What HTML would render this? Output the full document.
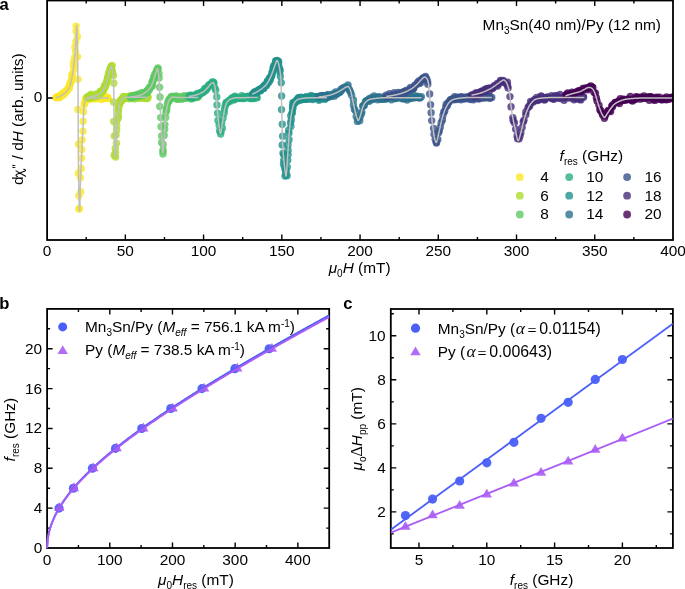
<!DOCTYPE html><html><head><meta charset="utf-8"><style>svg{will-change:transform}html,body{margin:0;padding:0;background:#fff;width:685px;height:589px;overflow:hidden}</style></head><body><svg width="685" height="589" viewBox="0 0 685 589" style="display:block">
<rect x="0" y="0" width="685" height="589" fill="#fff"/>
<defs><clipPath id="ca"><rect x="47.1" y="0.5" width="625.9" height="239.5"/></clipPath></defs>
<g clip-path="url(#ca)">
<g fill="#fde725" fill-opacity="0.8">
<circle cx="56.13" cy="97.60" r="3.7"/><circle cx="56.34" cy="97.76" r="3.7"/><circle cx="56.96" cy="97.28" r="3.7"/><circle cx="56.75" cy="96.74" r="3.7"/><circle cx="57.50" cy="96.91" r="3.7"/><circle cx="58.48" cy="96.38" r="3.7"/><circle cx="58.05" cy="96.94" r="3.7"/><circle cx="59.55" cy="97.64" r="3.7"/><circle cx="59.09" cy="96.14" r="3.7"/><circle cx="60.41" cy="95.82" r="3.7"/><circle cx="60.30" cy="96.35" r="3.7"/><circle cx="61.32" cy="95.99" r="3.7"/><circle cx="61.55" cy="95.54" r="3.7"/><circle cx="61.41" cy="94.54" r="3.7"/><circle cx="62.84" cy="94.88" r="3.7"/><circle cx="63.35" cy="95.09" r="3.7"/><circle cx="63.28" cy="93.36" r="3.7"/><circle cx="63.65" cy="93.68" r="3.7"/><circle cx="64.14" cy="92.35" r="3.7"/><circle cx="64.31" cy="92.43" r="3.7"/><circle cx="65.48" cy="91.67" r="3.7"/><circle cx="65.36" cy="92.39" r="3.7"/><circle cx="65.98" cy="91.23" r="3.7"/><circle cx="66.17" cy="91.83" r="3.7"/><circle cx="66.68" cy="91.23" r="3.7"/><circle cx="66.90" cy="90.42" r="3.7"/><circle cx="68.24" cy="88.17" r="3.7"/><circle cx="68.20" cy="88.88" r="3.7"/><circle cx="69.04" cy="88.49" r="3.7"/><circle cx="69.15" cy="87.80" r="3.7"/><circle cx="69.36" cy="85.62" r="3.7"/><circle cx="69.93" cy="85.08" r="3.7"/><circle cx="70.30" cy="83.23" r="3.7"/><circle cx="70.95" cy="81.65" r="3.7"/><circle cx="71.27" cy="81.07" r="3.7"/><circle cx="71.74" cy="77.71" r="3.7"/><circle cx="71.81" cy="75.81" r="3.7"/><circle cx="72.46" cy="73.51" r="3.7"/><circle cx="73.77" cy="69.12" r="3.7"/><circle cx="73.41" cy="65.74" r="3.7"/><circle cx="73.72" cy="61.91" r="3.7"/><circle cx="74.65" cy="57.53" r="3.7"/><circle cx="75.47" cy="51.62" r="3.7"/><circle cx="74.92" cy="46.94" r="3.7"/><circle cx="75.80" cy="41.78" r="3.7"/><circle cx="76.09" cy="31.14" r="3.7"/><circle cx="76.13" cy="26.11" r="3.7"/><circle cx="77.43" cy="36.78" r="3.7"/><circle cx="77.54" cy="56.87" r="3.7"/><circle cx="77.95" cy="79.31" r="3.7"/><circle cx="77.89" cy="109.46" r="3.7"/><circle cx="78.43" cy="144.25" r="3.7"/><circle cx="78.38" cy="173.14" r="3.7"/><circle cx="78.88" cy="195.69" r="3.7"/><circle cx="78.96" cy="208.68" r="3.7"/><circle cx="79.37" cy="208.71" r="3.7"/><circle cx="80.66" cy="191.78" r="3.7"/><circle cx="80.43" cy="177.64" r="3.7"/><circle cx="81.15" cy="168.38" r="3.7"/><circle cx="81.47" cy="158.03" r="3.7"/><circle cx="81.76" cy="149.44" r="3.7"/><circle cx="82.18" cy="139.84" r="3.7"/><circle cx="83.01" cy="131.30" r="3.7"/><circle cx="83.12" cy="121.25" r="3.7"/><circle cx="83.61" cy="111.64" r="3.7"/><circle cx="84.11" cy="104.63" r="3.7"/><circle cx="84.96" cy="102.90" r="3.7"/><circle cx="85.24" cy="101.51" r="3.7"/><circle cx="85.58" cy="98.93" r="3.7"/><circle cx="85.70" cy="98.89" r="3.7"/><circle cx="85.87" cy="99.54" r="3.7"/><circle cx="87.13" cy="97.39" r="3.7"/><circle cx="87.59" cy="98.20" r="3.7"/><circle cx="87.65" cy="98.24" r="3.7"/><circle cx="88.34" cy="99.02" r="3.7"/><circle cx="88.87" cy="98.50" r="3.7"/><circle cx="89.34" cy="97.70" r="3.7"/><circle cx="89.82" cy="97.64" r="3.7"/><circle cx="89.79" cy="97.72" r="3.7"/><circle cx="90.93" cy="98.97" r="3.7"/><circle cx="90.41" cy="97.60" r="3.7"/><circle cx="91.60" cy="97.69" r="3.7"/><circle cx="91.92" cy="98.15" r="3.7"/><circle cx="92.51" cy="97.82" r="3.7"/><circle cx="93.31" cy="97.76" r="3.7"/><circle cx="93.62" cy="97.12" r="3.7"/><circle cx="93.15" cy="97.89" r="3.7"/><circle cx="93.41" cy="97.59" r="3.7"/><circle cx="94.74" cy="98.72" r="3.7"/><circle cx="94.54" cy="98.36" r="3.7"/><circle cx="95.34" cy="97.88" r="3.7"/><circle cx="96.09" cy="98.37" r="3.7"/><circle cx="95.67" cy="97.66" r="3.7"/><circle cx="95.96" cy="98.64" r="3.7"/><circle cx="97.24" cy="97.90" r="3.7"/><circle cx="97.61" cy="98.31" r="3.7"/><circle cx="97.96" cy="97.00" r="3.7"/><circle cx="98.51" cy="98.14" r="3.7"/><circle cx="98.65" cy="96.72" r="3.7"/><circle cx="98.87" cy="96.48" r="3.7"/><circle cx="99.79" cy="97.69" r="3.7"/><circle cx="99.96" cy="97.27" r="3.7"/><circle cx="100.17" cy="98.01" r="3.7"/><circle cx="101.38" cy="99.47" r="3.7"/><circle cx="101.63" cy="97.32" r="3.7"/><circle cx="102.24" cy="97.46" r="3.7"/><circle cx="102.20" cy="98.04" r="3.7"/><circle cx="102.77" cy="98.25" r="3.7"/><circle cx="103.10" cy="97.78" r="3.7"/><circle cx="103.59" cy="97.76" r="3.7"/><circle cx="104.42" cy="98.39" r="3.7"/><circle cx="104.53" cy="98.26" r="3.7"/><circle cx="105.37" cy="97.18" r="3.7"/><circle cx="105.82" cy="97.84" r="3.7"/><circle cx="106.86" cy="97.92" r="3.7"/><circle cx="106.11" cy="97.16" r="3.7"/><circle cx="107.36" cy="98.08" r="3.7"/><circle cx="107.47" cy="97.30" r="3.7"/><circle cx="107.94" cy="98.58" r="3.7"/><circle cx="107.89" cy="98.03" r="3.7"/>
</g>
<g fill="#addc30" fill-opacity="0.8">
<circle cx="87.01" cy="97.03" r="3.7"/><circle cx="88.64" cy="97.97" r="3.7"/><circle cx="88.04" cy="97.28" r="3.7"/><circle cx="89.01" cy="97.37" r="3.7"/><circle cx="88.57" cy="97.03" r="3.7"/><circle cx="89.21" cy="98.14" r="3.7"/><circle cx="88.92" cy="97.14" r="3.7"/><circle cx="89.72" cy="95.34" r="3.7"/><circle cx="90.54" cy="96.48" r="3.7"/><circle cx="90.11" cy="95.40" r="3.7"/><circle cx="91.28" cy="94.30" r="3.7"/><circle cx="91.37" cy="96.40" r="3.7"/><circle cx="91.23" cy="97.82" r="3.7"/><circle cx="91.77" cy="96.71" r="3.7"/><circle cx="92.14" cy="95.65" r="3.7"/><circle cx="92.63" cy="95.75" r="3.7"/><circle cx="92.81" cy="97.32" r="3.7"/><circle cx="93.06" cy="96.45" r="3.7"/><circle cx="93.59" cy="96.27" r="3.7"/><circle cx="93.69" cy="96.10" r="3.7"/><circle cx="93.95" cy="96.08" r="3.7"/><circle cx="94.73" cy="96.59" r="3.7"/><circle cx="95.41" cy="96.28" r="3.7"/><circle cx="94.91" cy="95.90" r="3.7"/><circle cx="95.80" cy="94.78" r="3.7"/><circle cx="95.92" cy="95.90" r="3.7"/><circle cx="96.16" cy="94.81" r="3.7"/><circle cx="97.15" cy="96.09" r="3.7"/><circle cx="97.02" cy="94.06" r="3.7"/><circle cx="98.07" cy="94.81" r="3.7"/><circle cx="97.63" cy="94.75" r="3.7"/><circle cx="98.39" cy="93.52" r="3.7"/><circle cx="98.52" cy="95.77" r="3.7"/><circle cx="98.69" cy="95.37" r="3.7"/><circle cx="99.51" cy="93.63" r="3.7"/><circle cx="99.60" cy="94.40" r="3.7"/><circle cx="100.21" cy="93.84" r="3.7"/><circle cx="100.33" cy="91.17" r="3.7"/><circle cx="100.32" cy="93.16" r="3.7"/><circle cx="101.01" cy="92.59" r="3.7"/><circle cx="101.42" cy="92.36" r="3.7"/><circle cx="102.09" cy="91.06" r="3.7"/><circle cx="101.78" cy="91.31" r="3.7"/><circle cx="102.44" cy="90.96" r="3.7"/><circle cx="102.20" cy="91.61" r="3.7"/><circle cx="103.38" cy="90.46" r="3.7"/><circle cx="103.12" cy="89.70" r="3.7"/><circle cx="103.22" cy="90.38" r="3.7"/><circle cx="104.18" cy="88.08" r="3.7"/><circle cx="104.94" cy="87.51" r="3.7"/><circle cx="104.37" cy="85.60" r="3.7"/><circle cx="104.87" cy="87.48" r="3.7"/><circle cx="105.34" cy="86.12" r="3.7"/><circle cx="105.55" cy="85.16" r="3.7"/><circle cx="106.43" cy="84.00" r="3.7"/><circle cx="106.37" cy="82.55" r="3.7"/><circle cx="106.75" cy="81.52" r="3.7"/><circle cx="107.55" cy="79.91" r="3.7"/><circle cx="107.43" cy="78.63" r="3.7"/><circle cx="108.20" cy="77.49" r="3.7"/><circle cx="108.06" cy="77.29" r="3.7"/><circle cx="108.32" cy="75.17" r="3.7"/><circle cx="108.45" cy="73.18" r="3.7"/><circle cx="110.10" cy="71.20" r="3.7"/><circle cx="109.68" cy="69.69" r="3.7"/><circle cx="110.23" cy="70.23" r="3.7"/><circle cx="110.48" cy="68.38" r="3.7"/><circle cx="110.90" cy="67.11" r="3.7"/><circle cx="111.21" cy="66.14" r="3.7"/><circle cx="112.21" cy="65.57" r="3.7"/><circle cx="111.53" cy="67.75" r="3.7"/><circle cx="111.70" cy="70.52" r="3.7"/><circle cx="112.24" cy="71.28" r="3.7"/><circle cx="112.47" cy="72.95" r="3.7"/><circle cx="113.55" cy="75.40" r="3.7"/><circle cx="113.91" cy="83.30" r="3.7"/><circle cx="113.54" cy="102.04" r="3.7"/><circle cx="113.66" cy="121.38" r="3.7"/><circle cx="114.32" cy="136.00" r="3.7"/><circle cx="115.26" cy="148.57" r="3.7"/><circle cx="114.12" cy="155.19" r="3.7"/><circle cx="115.64" cy="157.09" r="3.7"/><circle cx="115.42" cy="152.60" r="3.7"/><circle cx="116.50" cy="143.19" r="3.7"/><circle cx="116.09" cy="134.99" r="3.7"/><circle cx="116.71" cy="129.98" r="3.7"/><circle cx="116.63" cy="125.31" r="3.7"/><circle cx="117.16" cy="120.36" r="3.7"/><circle cx="118.34" cy="117.80" r="3.7"/><circle cx="118.49" cy="115.78" r="3.7"/><circle cx="118.41" cy="111.23" r="3.7"/><circle cx="118.59" cy="108.80" r="3.7"/><circle cx="118.59" cy="105.84" r="3.7"/><circle cx="119.46" cy="104.93" r="3.7"/><circle cx="119.94" cy="102.08" r="3.7"/><circle cx="120.27" cy="101.12" r="3.7"/><circle cx="120.61" cy="102.29" r="3.7"/><circle cx="120.60" cy="99.86" r="3.7"/><circle cx="121.32" cy="100.82" r="3.7"/><circle cx="121.68" cy="100.61" r="3.7"/><circle cx="122.50" cy="99.09" r="3.7"/><circle cx="123.05" cy="98.90" r="3.7"/><circle cx="122.70" cy="99.66" r="3.7"/><circle cx="122.83" cy="97.66" r="3.7"/><circle cx="123.42" cy="97.15" r="3.7"/><circle cx="123.58" cy="96.43" r="3.7"/><circle cx="123.89" cy="97.51" r="3.7"/><circle cx="124.48" cy="98.62" r="3.7"/><circle cx="124.48" cy="98.18" r="3.7"/><circle cx="125.41" cy="96.62" r="3.7"/><circle cx="125.51" cy="96.67" r="3.7"/><circle cx="125.98" cy="96.92" r="3.7"/><circle cx="126.18" cy="97.54" r="3.7"/><circle cx="126.34" cy="97.12" r="3.7"/><circle cx="126.61" cy="97.44" r="3.7"/><circle cx="127.21" cy="97.49" r="3.7"/><circle cx="127.45" cy="97.00" r="3.7"/><circle cx="128.08" cy="97.19" r="3.7"/><circle cx="128.34" cy="97.38" r="3.7"/><circle cx="128.22" cy="97.14" r="3.7"/><circle cx="129.07" cy="97.61" r="3.7"/><circle cx="128.93" cy="98.70" r="3.7"/><circle cx="129.53" cy="97.67" r="3.7"/><circle cx="129.99" cy="97.24" r="3.7"/><circle cx="129.72" cy="95.85" r="3.7"/><circle cx="130.83" cy="97.51" r="3.7"/><circle cx="131.20" cy="95.64" r="3.7"/><circle cx="131.44" cy="96.07" r="3.7"/><circle cx="131.70" cy="97.88" r="3.7"/><circle cx="132.07" cy="97.77" r="3.7"/><circle cx="132.20" cy="97.08" r="3.7"/><circle cx="132.80" cy="95.83" r="3.7"/><circle cx="133.05" cy="96.91" r="3.7"/><circle cx="133.63" cy="96.66" r="3.7"/><circle cx="133.52" cy="97.71" r="3.7"/><circle cx="134.38" cy="99.01" r="3.7"/><circle cx="134.70" cy="97.38" r="3.7"/><circle cx="134.95" cy="96.58" r="3.7"/><circle cx="135.19" cy="96.27" r="3.7"/><circle cx="135.89" cy="97.17" r="3.7"/><circle cx="135.46" cy="97.07" r="3.7"/><circle cx="136.56" cy="96.29" r="3.7"/><circle cx="136.83" cy="97.31" r="3.7"/><circle cx="137.20" cy="96.30" r="3.7"/><circle cx="137.58" cy="98.11" r="3.7"/><circle cx="137.57" cy="98.08" r="3.7"/><circle cx="138.06" cy="98.10" r="3.7"/><circle cx="138.72" cy="96.85" r="3.7"/><circle cx="139.00" cy="97.65" r="3.7"/><circle cx="139.27" cy="97.13" r="3.7"/><circle cx="139.02" cy="96.93" r="3.7"/><circle cx="140.08" cy="96.98" r="3.7"/><circle cx="140.66" cy="96.22" r="3.7"/><circle cx="140.95" cy="96.11" r="3.7"/><circle cx="141.03" cy="97.90" r="3.7"/><circle cx="140.75" cy="97.12" r="3.7"/><circle cx="141.98" cy="97.45" r="3.7"/><circle cx="141.94" cy="98.09" r="3.7"/><circle cx="141.46" cy="95.91" r="3.7"/><circle cx="142.83" cy="96.68" r="3.7"/><circle cx="142.52" cy="97.45" r="3.7"/><circle cx="142.94" cy="97.64" r="3.7"/><circle cx="143.52" cy="97.03" r="3.7"/><circle cx="144.54" cy="98.16" r="3.7"/><circle cx="144.32" cy="97.52" r="3.7"/><circle cx="144.89" cy="96.39" r="3.7"/><circle cx="145.76" cy="96.63" r="3.7"/><circle cx="146.05" cy="98.03" r="3.7"/><circle cx="145.81" cy="97.77" r="3.7"/><circle cx="146.11" cy="95.89" r="3.7"/><circle cx="146.10" cy="98.50" r="3.7"/><circle cx="146.65" cy="97.92" r="3.7"/><circle cx="147.39" cy="98.53" r="3.7"/><circle cx="147.73" cy="97.16" r="3.7"/><circle cx="147.98" cy="97.25" r="3.7"/>
</g>
<g fill="#5ec962" fill-opacity="0.8">
<circle cx="130.19" cy="97.70" r="3.7"/><circle cx="131.30" cy="96.28" r="3.7"/><circle cx="131.79" cy="96.84" r="3.7"/><circle cx="132.01" cy="97.44" r="3.7"/><circle cx="132.25" cy="97.29" r="3.7"/><circle cx="132.21" cy="97.64" r="3.7"/><circle cx="133.40" cy="97.05" r="3.7"/><circle cx="133.33" cy="96.44" r="3.7"/><circle cx="133.78" cy="96.91" r="3.7"/><circle cx="134.15" cy="95.76" r="3.7"/><circle cx="134.73" cy="95.18" r="3.7"/><circle cx="135.00" cy="96.88" r="3.7"/><circle cx="135.57" cy="96.30" r="3.7"/><circle cx="135.67" cy="96.51" r="3.7"/><circle cx="136.37" cy="94.83" r="3.7"/><circle cx="137.75" cy="95.82" r="3.7"/><circle cx="137.38" cy="95.54" r="3.7"/><circle cx="137.77" cy="95.23" r="3.7"/><circle cx="138.49" cy="94.01" r="3.7"/><circle cx="139.00" cy="95.42" r="3.7"/><circle cx="138.81" cy="96.27" r="3.7"/><circle cx="139.58" cy="95.70" r="3.7"/><circle cx="140.42" cy="94.76" r="3.7"/><circle cx="140.64" cy="95.06" r="3.7"/><circle cx="141.04" cy="95.50" r="3.7"/><circle cx="141.99" cy="92.50" r="3.7"/><circle cx="141.66" cy="94.41" r="3.7"/><circle cx="142.38" cy="94.74" r="3.7"/><circle cx="142.62" cy="94.64" r="3.7"/><circle cx="143.77" cy="95.24" r="3.7"/><circle cx="143.02" cy="94.54" r="3.7"/><circle cx="143.92" cy="93.61" r="3.7"/><circle cx="144.41" cy="93.30" r="3.7"/><circle cx="145.28" cy="93.38" r="3.7"/><circle cx="145.71" cy="91.98" r="3.7"/><circle cx="146.44" cy="92.02" r="3.7"/><circle cx="145.85" cy="92.41" r="3.7"/><circle cx="147.11" cy="92.87" r="3.7"/><circle cx="147.20" cy="90.78" r="3.7"/><circle cx="147.52" cy="90.47" r="3.7"/><circle cx="148.39" cy="90.25" r="3.7"/><circle cx="148.33" cy="90.71" r="3.7"/><circle cx="148.37" cy="89.13" r="3.7"/><circle cx="149.42" cy="89.81" r="3.7"/><circle cx="149.48" cy="87.29" r="3.7"/><circle cx="150.22" cy="87.28" r="3.7"/><circle cx="151.03" cy="86.55" r="3.7"/><circle cx="151.46" cy="86.46" r="3.7"/><circle cx="152.35" cy="85.66" r="3.7"/><circle cx="152.18" cy="82.51" r="3.7"/><circle cx="152.16" cy="81.82" r="3.7"/><circle cx="152.88" cy="81.61" r="3.7"/><circle cx="153.28" cy="79.49" r="3.7"/><circle cx="153.62" cy="77.28" r="3.7"/><circle cx="154.65" cy="77.76" r="3.7"/><circle cx="154.72" cy="75.83" r="3.7"/><circle cx="154.70" cy="74.53" r="3.7"/><circle cx="156.09" cy="72.42" r="3.7"/><circle cx="156.26" cy="72.26" r="3.7"/><circle cx="156.87" cy="70.00" r="3.7"/><circle cx="157.23" cy="70.12" r="3.7"/><circle cx="157.87" cy="68.01" r="3.7"/><circle cx="158.11" cy="68.87" r="3.7"/><circle cx="158.98" cy="73.48" r="3.7"/><circle cx="159.14" cy="78.00" r="3.7"/><circle cx="159.57" cy="87.17" r="3.7"/><circle cx="160.00" cy="96.90" r="3.7"/><circle cx="159.78" cy="106.54" r="3.7"/><circle cx="160.67" cy="117.62" r="3.7"/><circle cx="161.07" cy="126.65" r="3.7"/><circle cx="161.67" cy="136.06" r="3.7"/><circle cx="161.57" cy="142.44" r="3.7"/><circle cx="163.05" cy="149.71" r="3.7"/><circle cx="162.97" cy="153.94" r="3.7"/><circle cx="162.95" cy="151.52" r="3.7"/><circle cx="163.22" cy="144.53" r="3.7"/><circle cx="164.16" cy="135.45" r="3.7"/><circle cx="164.67" cy="129.53" r="3.7"/><circle cx="164.90" cy="124.61" r="3.7"/><circle cx="165.63" cy="117.61" r="3.7"/><circle cx="165.82" cy="112.39" r="3.7"/><circle cx="166.68" cy="110.27" r="3.7"/><circle cx="166.69" cy="108.00" r="3.7"/><circle cx="167.37" cy="104.78" r="3.7"/><circle cx="168.18" cy="102.30" r="3.7"/><circle cx="169.19" cy="101.03" r="3.7"/><circle cx="168.38" cy="101.66" r="3.7"/><circle cx="169.02" cy="99.67" r="3.7"/><circle cx="169.34" cy="99.37" r="3.7"/><circle cx="170.36" cy="98.94" r="3.7"/><circle cx="170.14" cy="98.66" r="3.7"/><circle cx="170.82" cy="97.41" r="3.7"/><circle cx="171.43" cy="97.75" r="3.7"/><circle cx="171.54" cy="96.49" r="3.7"/><circle cx="172.00" cy="96.91" r="3.7"/><circle cx="172.62" cy="96.39" r="3.7"/><circle cx="172.50" cy="98.12" r="3.7"/><circle cx="173.18" cy="97.21" r="3.7"/><circle cx="173.99" cy="96.66" r="3.7"/><circle cx="174.64" cy="96.98" r="3.7"/><circle cx="174.97" cy="97.11" r="3.7"/><circle cx="174.87" cy="97.87" r="3.7"/><circle cx="175.77" cy="96.05" r="3.7"/><circle cx="176.67" cy="96.52" r="3.7"/><circle cx="177.03" cy="97.06" r="3.7"/><circle cx="177.26" cy="99.40" r="3.7"/><circle cx="177.43" cy="98.15" r="3.7"/><circle cx="178.41" cy="97.31" r="3.7"/><circle cx="178.43" cy="97.97" r="3.7"/><circle cx="178.68" cy="99.05" r="3.7"/><circle cx="179.26" cy="97.21" r="3.7"/><circle cx="180.49" cy="97.11" r="3.7"/><circle cx="180.51" cy="98.37" r="3.7"/><circle cx="181.29" cy="97.80" r="3.7"/><circle cx="181.17" cy="97.94" r="3.7"/><circle cx="182.12" cy="96.99" r="3.7"/><circle cx="182.03" cy="98.94" r="3.7"/><circle cx="182.63" cy="98.77" r="3.7"/><circle cx="184.01" cy="97.85" r="3.7"/><circle cx="183.86" cy="97.95" r="3.7"/><circle cx="183.86" cy="95.78" r="3.7"/><circle cx="184.46" cy="97.91" r="3.7"/><circle cx="185.05" cy="97.24" r="3.7"/><circle cx="185.81" cy="97.75" r="3.7"/><circle cx="185.67" cy="97.95" r="3.7"/><circle cx="185.68" cy="97.13" r="3.7"/><circle cx="186.64" cy="96.05" r="3.7"/><circle cx="187.19" cy="97.69" r="3.7"/><circle cx="187.68" cy="96.81" r="3.7"/><circle cx="188.55" cy="97.14" r="3.7"/><circle cx="188.65" cy="96.92" r="3.7"/><circle cx="189.27" cy="97.13" r="3.7"/><circle cx="189.05" cy="95.55" r="3.7"/><circle cx="190.19" cy="98.37" r="3.7"/><circle cx="191.07" cy="97.60" r="3.7"/><circle cx="191.06" cy="98.29" r="3.7"/><circle cx="191.33" cy="98.98" r="3.7"/><circle cx="191.74" cy="97.42" r="3.7"/><circle cx="192.76" cy="95.96" r="3.7"/><circle cx="192.26" cy="96.68" r="3.7"/><circle cx="193.00" cy="96.43" r="3.7"/><circle cx="193.65" cy="97.00" r="3.7"/><circle cx="194.20" cy="97.46" r="3.7"/><circle cx="194.23" cy="95.80" r="3.7"/><circle cx="194.94" cy="97.67" r="3.7"/><circle cx="195.19" cy="96.19" r="3.7"/><circle cx="195.78" cy="97.64" r="3.7"/><circle cx="196.14" cy="97.31" r="3.7"/><circle cx="196.24" cy="97.15" r="3.7"/><circle cx="197.08" cy="97.34" r="3.7"/><circle cx="197.84" cy="96.97" r="3.7"/><circle cx="197.65" cy="96.91" r="3.7"/><circle cx="198.35" cy="96.05" r="3.7"/>
</g>
<g fill="#28ae80" fill-opacity="0.8">
<circle cx="188.58" cy="97.00" r="3.7"/><circle cx="189.96" cy="95.38" r="3.7"/><circle cx="190.16" cy="96.43" r="3.7"/><circle cx="191.16" cy="95.21" r="3.7"/><circle cx="191.41" cy="97.06" r="3.7"/><circle cx="192.53" cy="97.98" r="3.7"/><circle cx="193.24" cy="97.57" r="3.7"/><circle cx="193.65" cy="95.38" r="3.7"/><circle cx="195.21" cy="96.06" r="3.7"/><circle cx="195.33" cy="95.30" r="3.7"/><circle cx="196.52" cy="95.08" r="3.7"/><circle cx="196.94" cy="96.17" r="3.7"/><circle cx="197.07" cy="93.37" r="3.7"/><circle cx="197.87" cy="95.28" r="3.7"/><circle cx="198.85" cy="94.05" r="3.7"/><circle cx="199.42" cy="95.08" r="3.7"/><circle cx="200.12" cy="93.68" r="3.7"/><circle cx="200.70" cy="92.57" r="3.7"/><circle cx="200.87" cy="93.06" r="3.7"/><circle cx="202.12" cy="93.07" r="3.7"/><circle cx="202.12" cy="92.02" r="3.7"/><circle cx="203.73" cy="91.97" r="3.7"/><circle cx="204.05" cy="90.56" r="3.7"/><circle cx="204.75" cy="88.49" r="3.7"/><circle cx="205.62" cy="90.51" r="3.7"/><circle cx="206.50" cy="89.57" r="3.7"/><circle cx="206.60" cy="88.28" r="3.7"/><circle cx="207.19" cy="87.42" r="3.7"/><circle cx="208.13" cy="87.53" r="3.7"/><circle cx="208.48" cy="85.40" r="3.7"/><circle cx="209.56" cy="84.35" r="3.7"/><circle cx="211.16" cy="84.04" r="3.7"/><circle cx="210.93" cy="84.67" r="3.7"/><circle cx="212.23" cy="81.83" r="3.7"/><circle cx="212.22" cy="83.75" r="3.7"/><circle cx="213.50" cy="82.17" r="3.7"/><circle cx="213.99" cy="83.08" r="3.7"/><circle cx="214.78" cy="87.61" r="3.7"/><circle cx="215.70" cy="90.29" r="3.7"/><circle cx="216.81" cy="97.03" r="3.7"/><circle cx="216.95" cy="104.96" r="3.7"/><circle cx="217.62" cy="113.29" r="3.7"/><circle cx="217.93" cy="120.47" r="3.7"/><circle cx="219.17" cy="125.42" r="3.7"/><circle cx="219.58" cy="130.90" r="3.7"/><circle cx="220.66" cy="134.03" r="3.7"/><circle cx="221.05" cy="131.18" r="3.7"/><circle cx="222.37" cy="127.97" r="3.7"/><circle cx="221.77" cy="122.77" r="3.7"/><circle cx="223.06" cy="118.00" r="3.7"/><circle cx="224.17" cy="113.33" r="3.7"/><circle cx="224.43" cy="109.65" r="3.7"/><circle cx="224.98" cy="106.80" r="3.7"/><circle cx="225.86" cy="103.99" r="3.7"/><circle cx="226.17" cy="102.43" r="3.7"/><circle cx="227.40" cy="102.75" r="3.7"/><circle cx="228.91" cy="101.09" r="3.7"/><circle cx="229.16" cy="101.00" r="3.7"/><circle cx="229.07" cy="100.76" r="3.7"/><circle cx="229.85" cy="99.87" r="3.7"/><circle cx="230.71" cy="101.10" r="3.7"/><circle cx="231.91" cy="98.05" r="3.7"/><circle cx="231.97" cy="99.28" r="3.7"/><circle cx="232.71" cy="98.05" r="3.7"/><circle cx="233.96" cy="99.82" r="3.7"/><circle cx="234.66" cy="99.53" r="3.7"/><circle cx="234.92" cy="96.11" r="3.7"/><circle cx="235.36" cy="96.90" r="3.7"/><circle cx="235.91" cy="98.32" r="3.7"/><circle cx="236.91" cy="98.41" r="3.7"/><circle cx="237.07" cy="98.35" r="3.7"/><circle cx="238.82" cy="97.62" r="3.7"/><circle cx="239.03" cy="98.09" r="3.7"/><circle cx="240.12" cy="98.26" r="3.7"/><circle cx="241.31" cy="97.59" r="3.7"/><circle cx="241.77" cy="98.58" r="3.7"/><circle cx="241.65" cy="95.62" r="3.7"/><circle cx="243.06" cy="98.22" r="3.7"/><circle cx="243.86" cy="96.71" r="3.7"/><circle cx="243.89" cy="98.50" r="3.7"/><circle cx="244.52" cy="97.43" r="3.7"/><circle cx="245.52" cy="96.83" r="3.7"/><circle cx="245.69" cy="97.96" r="3.7"/><circle cx="247.47" cy="96.80" r="3.7"/><circle cx="246.81" cy="96.80" r="3.7"/><circle cx="247.97" cy="96.21" r="3.7"/><circle cx="248.96" cy="97.59" r="3.7"/><circle cx="249.68" cy="98.06" r="3.7"/><circle cx="250.51" cy="98.53" r="3.7"/><circle cx="251.25" cy="97.48" r="3.7"/><circle cx="251.78" cy="98.55" r="3.7"/><circle cx="252.95" cy="97.62" r="3.7"/><circle cx="252.51" cy="97.52" r="3.7"/><circle cx="253.95" cy="98.12" r="3.7"/><circle cx="254.40" cy="98.55" r="3.7"/><circle cx="255.40" cy="97.29" r="3.7"/><circle cx="256.13" cy="97.38" r="3.7"/><circle cx="256.44" cy="97.46" r="3.7"/><circle cx="257.23" cy="97.67" r="3.7"/>
</g>
<g fill="#21918c" fill-opacity="0.8">
<circle cx="252.76" cy="94.91" r="3.7"/><circle cx="252.28" cy="94.35" r="3.7"/><circle cx="253.39" cy="93.25" r="3.7"/><circle cx="253.54" cy="95.52" r="3.7"/><circle cx="254.32" cy="95.58" r="3.7"/><circle cx="254.45" cy="92.00" r="3.7"/><circle cx="254.44" cy="93.40" r="3.7"/><circle cx="254.79" cy="95.19" r="3.7"/><circle cx="255.27" cy="93.44" r="3.7"/><circle cx="255.68" cy="92.74" r="3.7"/><circle cx="255.81" cy="92.14" r="3.7"/><circle cx="256.37" cy="91.63" r="3.7"/><circle cx="257.32" cy="91.72" r="3.7"/><circle cx="256.54" cy="91.20" r="3.7"/><circle cx="257.61" cy="92.14" r="3.7"/><circle cx="257.58" cy="90.89" r="3.7"/><circle cx="258.35" cy="90.63" r="3.7"/><circle cx="258.95" cy="89.71" r="3.7"/><circle cx="259.02" cy="90.51" r="3.7"/><circle cx="259.69" cy="89.51" r="3.7"/><circle cx="259.24" cy="89.91" r="3.7"/><circle cx="260.57" cy="90.76" r="3.7"/><circle cx="260.35" cy="89.89" r="3.7"/><circle cx="261.16" cy="89.75" r="3.7"/><circle cx="261.38" cy="89.34" r="3.7"/><circle cx="260.79" cy="88.80" r="3.7"/><circle cx="261.82" cy="88.34" r="3.7"/><circle cx="262.54" cy="87.88" r="3.7"/><circle cx="263.38" cy="88.53" r="3.7"/><circle cx="263.32" cy="86.56" r="3.7"/><circle cx="263.69" cy="88.42" r="3.7"/><circle cx="263.49" cy="86.91" r="3.7"/><circle cx="264.86" cy="85.86" r="3.7"/><circle cx="265.37" cy="85.73" r="3.7"/><circle cx="265.13" cy="85.19" r="3.7"/><circle cx="265.42" cy="85.54" r="3.7"/><circle cx="265.31" cy="84.34" r="3.7"/><circle cx="266.57" cy="85.57" r="3.7"/><circle cx="267.59" cy="83.37" r="3.7"/><circle cx="267.27" cy="81.53" r="3.7"/><circle cx="267.84" cy="82.36" r="3.7"/><circle cx="267.97" cy="80.60" r="3.7"/><circle cx="267.81" cy="81.72" r="3.7"/><circle cx="269.01" cy="82.02" r="3.7"/><circle cx="268.49" cy="80.93" r="3.7"/><circle cx="269.23" cy="78.41" r="3.7"/><circle cx="269.78" cy="78.17" r="3.7"/><circle cx="270.37" cy="79.68" r="3.7"/><circle cx="270.58" cy="77.58" r="3.7"/><circle cx="270.95" cy="76.47" r="3.7"/><circle cx="270.93" cy="76.54" r="3.7"/><circle cx="271.13" cy="76.89" r="3.7"/><circle cx="271.98" cy="74.92" r="3.7"/><circle cx="272.09" cy="72.91" r="3.7"/><circle cx="272.26" cy="72.10" r="3.7"/><circle cx="272.65" cy="71.25" r="3.7"/><circle cx="273.31" cy="68.99" r="3.7"/><circle cx="273.21" cy="67.39" r="3.7"/><circle cx="273.76" cy="67.19" r="3.7"/><circle cx="274.04" cy="65.14" r="3.7"/><circle cx="275.06" cy="64.87" r="3.7"/><circle cx="275.52" cy="64.03" r="3.7"/><circle cx="276.46" cy="64.96" r="3.7"/><circle cx="275.61" cy="61.03" r="3.7"/><circle cx="276.28" cy="60.85" r="3.7"/><circle cx="277.21" cy="60.38" r="3.7"/><circle cx="277.20" cy="61.01" r="3.7"/><circle cx="277.54" cy="62.06" r="3.7"/><circle cx="278.63" cy="61.55" r="3.7"/><circle cx="278.30" cy="62.44" r="3.7"/><circle cx="278.39" cy="63.16" r="3.7"/><circle cx="278.71" cy="65.48" r="3.7"/><circle cx="279.67" cy="68.66" r="3.7"/><circle cx="280.04" cy="70.22" r="3.7"/><circle cx="279.83" cy="71.88" r="3.7"/><circle cx="280.34" cy="76.39" r="3.7"/><circle cx="281.25" cy="82.65" r="3.7"/><circle cx="281.61" cy="96.02" r="3.7"/><circle cx="281.52" cy="109.61" r="3.7"/><circle cx="282.30" cy="124.32" r="3.7"/><circle cx="282.63" cy="136.16" r="3.7"/><circle cx="282.17" cy="144.91" r="3.7"/><circle cx="283.06" cy="153.28" r="3.7"/><circle cx="283.69" cy="154.59" r="3.7"/><circle cx="283.72" cy="160.19" r="3.7"/><circle cx="283.55" cy="164.18" r="3.7"/><circle cx="284.58" cy="167.15" r="3.7"/><circle cx="285.32" cy="170.34" r="3.7"/><circle cx="285.98" cy="174.05" r="3.7"/><circle cx="285.04" cy="175.93" r="3.7"/><circle cx="287.11" cy="175.65" r="3.7"/><circle cx="286.17" cy="170.79" r="3.7"/><circle cx="287.28" cy="167.05" r="3.7"/><circle cx="287.75" cy="160.26" r="3.7"/><circle cx="288.03" cy="154.64" r="3.7"/><circle cx="288.12" cy="150.16" r="3.7"/><circle cx="288.03" cy="145.05" r="3.7"/><circle cx="289.03" cy="139.75" r="3.7"/><circle cx="288.94" cy="133.32" r="3.7"/><circle cx="288.68" cy="130.13" r="3.7"/><circle cx="290.93" cy="126.34" r="3.7"/><circle cx="290.57" cy="122.61" r="3.7"/><circle cx="291.33" cy="119.64" r="3.7"/><circle cx="290.76" cy="115.72" r="3.7"/><circle cx="291.97" cy="113.50" r="3.7"/><circle cx="292.39" cy="112.34" r="3.7"/><circle cx="292.76" cy="108.47" r="3.7"/><circle cx="292.58" cy="108.18" r="3.7"/><circle cx="292.55" cy="106.01" r="3.7"/><circle cx="293.29" cy="104.88" r="3.7"/><circle cx="292.96" cy="102.61" r="3.7"/><circle cx="293.52" cy="102.59" r="3.7"/><circle cx="294.52" cy="102.72" r="3.7"/><circle cx="294.52" cy="102.95" r="3.7"/><circle cx="295.19" cy="102.52" r="3.7"/><circle cx="295.59" cy="101.10" r="3.7"/><circle cx="296.69" cy="100.60" r="3.7"/><circle cx="296.84" cy="99.69" r="3.7"/><circle cx="296.75" cy="100.51" r="3.7"/><circle cx="297.57" cy="99.69" r="3.7"/><circle cx="297.26" cy="100.25" r="3.7"/><circle cx="297.79" cy="101.09" r="3.7"/><circle cx="298.61" cy="99.31" r="3.7"/><circle cx="298.24" cy="97.84" r="3.7"/><circle cx="298.95" cy="98.28" r="3.7"/><circle cx="298.97" cy="97.63" r="3.7"/><circle cx="299.85" cy="97.77" r="3.7"/><circle cx="300.76" cy="99.93" r="3.7"/><circle cx="300.31" cy="98.89" r="3.7"/><circle cx="301.03" cy="97.24" r="3.7"/><circle cx="301.02" cy="99.13" r="3.7"/><circle cx="301.31" cy="99.62" r="3.7"/><circle cx="301.66" cy="98.10" r="3.7"/><circle cx="302.98" cy="97.76" r="3.7"/><circle cx="303.68" cy="98.02" r="3.7"/><circle cx="303.40" cy="98.53" r="3.7"/><circle cx="303.36" cy="98.81" r="3.7"/><circle cx="304.24" cy="99.26" r="3.7"/><circle cx="304.25" cy="99.25" r="3.7"/><circle cx="305.03" cy="99.19" r="3.7"/><circle cx="305.23" cy="99.31" r="3.7"/><circle cx="305.61" cy="98.65" r="3.7"/><circle cx="306.10" cy="96.65" r="3.7"/><circle cx="306.07" cy="97.88" r="3.7"/><circle cx="306.51" cy="98.25" r="3.7"/><circle cx="306.43" cy="97.59" r="3.7"/><circle cx="307.26" cy="98.72" r="3.7"/><circle cx="307.29" cy="97.55" r="3.7"/><circle cx="308.12" cy="97.02" r="3.7"/><circle cx="308.22" cy="99.12" r="3.7"/><circle cx="308.97" cy="98.40" r="3.7"/><circle cx="309.47" cy="97.98" r="3.7"/><circle cx="309.19" cy="98.59" r="3.7"/><circle cx="309.79" cy="98.70" r="3.7"/><circle cx="310.12" cy="98.03" r="3.7"/><circle cx="311.09" cy="95.50" r="3.7"/><circle cx="311.81" cy="97.10" r="3.7"/><circle cx="311.89" cy="97.29" r="3.7"/><circle cx="311.85" cy="96.81" r="3.7"/><circle cx="312.86" cy="97.88" r="3.7"/><circle cx="312.20" cy="98.77" r="3.7"/><circle cx="313.64" cy="97.26" r="3.7"/><circle cx="313.26" cy="96.68" r="3.7"/><circle cx="312.90" cy="99.53" r="3.7"/><circle cx="315.18" cy="97.29" r="3.7"/><circle cx="315.18" cy="96.59" r="3.7"/><circle cx="314.65" cy="97.91" r="3.7"/><circle cx="315.45" cy="98.08" r="3.7"/><circle cx="315.70" cy="97.07" r="3.7"/><circle cx="316.19" cy="98.41" r="3.7"/><circle cx="316.01" cy="97.26" r="3.7"/><circle cx="316.67" cy="96.87" r="3.7"/><circle cx="317.45" cy="97.86" r="3.7"/><circle cx="317.75" cy="98.39" r="3.7"/><circle cx="318.47" cy="97.13" r="3.7"/><circle cx="318.46" cy="98.00" r="3.7"/><circle cx="319.63" cy="97.62" r="3.7"/><circle cx="318.94" cy="100.24" r="3.7"/><circle cx="319.66" cy="97.06" r="3.7"/><circle cx="319.28" cy="98.95" r="3.7"/><circle cx="319.89" cy="97.65" r="3.7"/><circle cx="321.18" cy="97.59" r="3.7"/><circle cx="320.76" cy="98.35" r="3.7"/><circle cx="321.66" cy="98.50" r="3.7"/><circle cx="321.83" cy="98.84" r="3.7"/><circle cx="321.87" cy="98.00" r="3.7"/><circle cx="322.49" cy="97.16" r="3.7"/><circle cx="322.81" cy="97.22" r="3.7"/><circle cx="323.20" cy="98.16" r="3.7"/><circle cx="324.01" cy="98.22" r="3.7"/><circle cx="324.36" cy="98.96" r="3.7"/><circle cx="324.31" cy="98.08" r="3.7"/><circle cx="324.57" cy="98.65" r="3.7"/><circle cx="325.37" cy="99.07" r="3.7"/><circle cx="325.62" cy="97.85" r="3.7"/><circle cx="326.39" cy="96.36" r="3.7"/><circle cx="327.34" cy="96.64" r="3.7"/><circle cx="327.09" cy="96.41" r="3.7"/>
</g>
<g fill="#2c728e" fill-opacity="0.8">
<circle cx="318.73" cy="96.87" r="3.7"/><circle cx="318.96" cy="96.69" r="3.7"/><circle cx="320.22" cy="95.95" r="3.7"/><circle cx="321.67" cy="95.82" r="3.7"/><circle cx="321.85" cy="95.62" r="3.7"/><circle cx="322.82" cy="96.11" r="3.7"/><circle cx="324.29" cy="95.94" r="3.7"/><circle cx="324.66" cy="96.96" r="3.7"/><circle cx="325.59" cy="95.66" r="3.7"/><circle cx="326.68" cy="95.69" r="3.7"/><circle cx="327.88" cy="94.50" r="3.7"/><circle cx="327.61" cy="97.18" r="3.7"/><circle cx="329.00" cy="95.84" r="3.7"/><circle cx="329.84" cy="96.87" r="3.7"/><circle cx="330.71" cy="95.60" r="3.7"/><circle cx="331.69" cy="95.99" r="3.7"/><circle cx="332.60" cy="93.92" r="3.7"/><circle cx="333.91" cy="94.54" r="3.7"/><circle cx="334.38" cy="96.16" r="3.7"/><circle cx="335.64" cy="91.85" r="3.7"/><circle cx="336.64" cy="93.85" r="3.7"/><circle cx="337.14" cy="93.97" r="3.7"/><circle cx="338.35" cy="92.23" r="3.7"/><circle cx="339.79" cy="92.07" r="3.7"/><circle cx="340.22" cy="92.05" r="3.7"/><circle cx="340.77" cy="89.55" r="3.7"/><circle cx="341.88" cy="90.08" r="3.7"/><circle cx="342.47" cy="88.23" r="3.7"/><circle cx="343.80" cy="87.86" r="3.7"/><circle cx="344.91" cy="87.31" r="3.7"/><circle cx="345.21" cy="87.22" r="3.7"/><circle cx="346.32" cy="87.09" r="3.7"/><circle cx="347.70" cy="87.10" r="3.7"/><circle cx="348.02" cy="85.06" r="3.7"/><circle cx="349.17" cy="89.41" r="3.7"/><circle cx="349.63" cy="90.41" r="3.7"/><circle cx="350.61" cy="92.34" r="3.7"/><circle cx="351.61" cy="95.23" r="3.7"/><circle cx="353.46" cy="99.99" r="3.7"/><circle cx="353.45" cy="104.91" r="3.7"/><circle cx="354.31" cy="108.98" r="3.7"/><circle cx="355.19" cy="110.58" r="3.7"/><circle cx="356.23" cy="116.50" r="3.7"/><circle cx="357.42" cy="121.39" r="3.7"/><circle cx="358.16" cy="118.50" r="3.7"/><circle cx="359.71" cy="120.66" r="3.7"/><circle cx="359.96" cy="117.36" r="3.7"/><circle cx="361.30" cy="114.06" r="3.7"/><circle cx="361.78" cy="112.23" r="3.7"/><circle cx="362.80" cy="106.49" r="3.7"/><circle cx="362.98" cy="105.80" r="3.7"/><circle cx="364.34" cy="105.41" r="3.7"/><circle cx="365.26" cy="102.30" r="3.7"/><circle cx="366.10" cy="101.06" r="3.7"/><circle cx="366.33" cy="100.94" r="3.7"/><circle cx="368.29" cy="99.80" r="3.7"/><circle cx="368.75" cy="101.38" r="3.7"/><circle cx="369.63" cy="98.51" r="3.7"/><circle cx="370.60" cy="100.08" r="3.7"/><circle cx="371.51" cy="97.70" r="3.7"/><circle cx="372.63" cy="99.50" r="3.7"/><circle cx="372.94" cy="98.57" r="3.7"/><circle cx="373.96" cy="95.90" r="3.7"/><circle cx="375.29" cy="98.45" r="3.7"/><circle cx="376.14" cy="97.26" r="3.7"/><circle cx="376.85" cy="97.80" r="3.7"/><circle cx="377.69" cy="99.74" r="3.7"/><circle cx="378.49" cy="96.92" r="3.7"/><circle cx="379.67" cy="96.90" r="3.7"/><circle cx="381.00" cy="99.39" r="3.7"/><circle cx="381.12" cy="97.97" r="3.7"/><circle cx="382.92" cy="99.40" r="3.7"/><circle cx="383.58" cy="98.13" r="3.7"/><circle cx="384.03" cy="96.89" r="3.7"/><circle cx="385.36" cy="97.73" r="3.7"/><circle cx="385.47" cy="99.06" r="3.7"/><circle cx="386.28" cy="98.77" r="3.7"/><circle cx="387.33" cy="97.80" r="3.7"/><circle cx="388.54" cy="97.85" r="3.7"/><circle cx="389.47" cy="97.68" r="3.7"/><circle cx="390.31" cy="97.21" r="3.7"/><circle cx="391.42" cy="99.79" r="3.7"/><circle cx="391.54" cy="97.81" r="3.7"/><circle cx="393.36" cy="96.64" r="3.7"/><circle cx="393.59" cy="97.31" r="3.7"/><circle cx="394.75" cy="98.55" r="3.7"/><circle cx="395.74" cy="98.46" r="3.7"/><circle cx="396.38" cy="97.66" r="3.7"/><circle cx="397.21" cy="97.11" r="3.7"/><circle cx="398.23" cy="97.82" r="3.7"/><circle cx="399.48" cy="96.08" r="3.7"/><circle cx="400.59" cy="96.46" r="3.7"/><circle cx="401.48" cy="98.62" r="3.7"/><circle cx="401.84" cy="97.31" r="3.7"/><circle cx="402.81" cy="98.19" r="3.7"/><circle cx="403.66" cy="99.05" r="3.7"/><circle cx="405.04" cy="98.47" r="3.7"/><circle cx="405.07" cy="97.82" r="3.7"/><circle cx="407.12" cy="99.99" r="3.7"/><circle cx="407.42" cy="98.49" r="3.7"/><circle cx="408.21" cy="97.44" r="3.7"/><circle cx="409.50" cy="98.55" r="3.7"/>
</g>
<g fill="#3b528b" fill-opacity="0.8">
<circle cx="386.07" cy="95.09" r="3.7"/><circle cx="386.72" cy="96.95" r="3.7"/><circle cx="387.69" cy="96.54" r="3.7"/><circle cx="389.13" cy="96.35" r="3.7"/><circle cx="389.56" cy="93.73" r="3.7"/><circle cx="390.82" cy="95.69" r="3.7"/><circle cx="392.07" cy="96.28" r="3.7"/><circle cx="392.96" cy="94.71" r="3.7"/><circle cx="394.05" cy="95.39" r="3.7"/><circle cx="394.30" cy="92.74" r="3.7"/><circle cx="394.92" cy="95.61" r="3.7"/><circle cx="396.56" cy="94.08" r="3.7"/><circle cx="397.21" cy="95.40" r="3.7"/><circle cx="398.39" cy="92.46" r="3.7"/><circle cx="398.90" cy="94.76" r="3.7"/><circle cx="400.22" cy="93.58" r="3.7"/><circle cx="401.00" cy="94.35" r="3.7"/><circle cx="401.85" cy="92.34" r="3.7"/><circle cx="402.68" cy="92.35" r="3.7"/><circle cx="403.54" cy="94.90" r="3.7"/><circle cx="404.38" cy="91.51" r="3.7"/><circle cx="405.28" cy="91.29" r="3.7"/><circle cx="406.45" cy="91.34" r="3.7"/><circle cx="406.82" cy="90.19" r="3.7"/><circle cx="408.51" cy="91.96" r="3.7"/><circle cx="408.76" cy="92.03" r="3.7"/><circle cx="410.04" cy="89.11" r="3.7"/><circle cx="410.57" cy="87.56" r="3.7"/><circle cx="411.41" cy="89.91" r="3.7"/><circle cx="413.11" cy="89.24" r="3.7"/><circle cx="413.19" cy="88.29" r="3.7"/><circle cx="413.75" cy="87.91" r="3.7"/><circle cx="414.85" cy="85.13" r="3.7"/><circle cx="415.89" cy="85.03" r="3.7"/><circle cx="417.65" cy="83.00" r="3.7"/><circle cx="417.87" cy="82.09" r="3.7"/><circle cx="419.03" cy="83.50" r="3.7"/><circle cx="419.25" cy="80.81" r="3.7"/><circle cx="420.62" cy="82.77" r="3.7"/><circle cx="421.63" cy="79.69" r="3.7"/><circle cx="422.93" cy="78.03" r="3.7"/><circle cx="422.96" cy="78.57" r="3.7"/><circle cx="424.31" cy="78.94" r="3.7"/><circle cx="425.10" cy="77.53" r="3.7"/><circle cx="425.54" cy="76.36" r="3.7"/><circle cx="426.79" cy="78.87" r="3.7"/><circle cx="427.61" cy="81.61" r="3.7"/><circle cx="427.78" cy="84.15" r="3.7"/><circle cx="429.70" cy="93.96" r="3.7"/><circle cx="430.57" cy="104.69" r="3.7"/><circle cx="431.12" cy="112.76" r="3.7"/><circle cx="431.70" cy="120.61" r="3.7"/><circle cx="433.58" cy="128.55" r="3.7"/><circle cx="434.06" cy="134.22" r="3.7"/><circle cx="435.22" cy="139.35" r="3.7"/><circle cx="436.25" cy="142.13" r="3.7"/><circle cx="436.48" cy="143.12" r="3.7"/><circle cx="437.84" cy="139.47" r="3.7"/><circle cx="438.37" cy="132.96" r="3.7"/><circle cx="439.33" cy="131.06" r="3.7"/><circle cx="440.22" cy="127.27" r="3.7"/><circle cx="441.15" cy="122.73" r="3.7"/><circle cx="442.44" cy="119.89" r="3.7"/><circle cx="443.00" cy="115.15" r="3.7"/><circle cx="443.80" cy="111.89" r="3.7"/><circle cx="444.65" cy="111.32" r="3.7"/><circle cx="445.77" cy="107.27" r="3.7"/><circle cx="446.24" cy="104.29" r="3.7"/><circle cx="447.27" cy="105.81" r="3.7"/><circle cx="448.33" cy="102.67" r="3.7"/><circle cx="449.05" cy="102.04" r="3.7"/><circle cx="450.11" cy="100.10" r="3.7"/><circle cx="450.84" cy="99.43" r="3.7"/><circle cx="452.65" cy="98.98" r="3.7"/><circle cx="453.31" cy="99.29" r="3.7"/><circle cx="453.91" cy="99.69" r="3.7"/><circle cx="454.63" cy="96.76" r="3.7"/><circle cx="456.32" cy="99.60" r="3.7"/><circle cx="456.56" cy="97.48" r="3.7"/><circle cx="457.32" cy="97.44" r="3.7"/><circle cx="458.36" cy="99.05" r="3.7"/><circle cx="459.26" cy="98.18" r="3.7"/><circle cx="460.54" cy="96.60" r="3.7"/><circle cx="460.94" cy="99.87" r="3.7"/><circle cx="462.58" cy="97.06" r="3.7"/><circle cx="462.44" cy="98.07" r="3.7"/><circle cx="463.89" cy="97.94" r="3.7"/><circle cx="464.20" cy="99.08" r="3.7"/><circle cx="466.09" cy="97.17" r="3.7"/><circle cx="466.23" cy="98.61" r="3.7"/><circle cx="467.23" cy="96.86" r="3.7"/><circle cx="468.47" cy="98.72" r="3.7"/><circle cx="469.49" cy="96.84" r="3.7"/><circle cx="469.56" cy="97.24" r="3.7"/><circle cx="470.73" cy="99.50" r="3.7"/><circle cx="471.26" cy="97.92" r="3.7"/><circle cx="472.70" cy="97.71" r="3.7"/><circle cx="473.51" cy="99.84" r="3.7"/><circle cx="474.33" cy="97.96" r="3.7"/><circle cx="475.11" cy="96.78" r="3.7"/><circle cx="476.11" cy="98.33" r="3.7"/><circle cx="476.89" cy="96.42" r="3.7"/><circle cx="478.23" cy="98.73" r="3.7"/><circle cx="479.48" cy="98.81" r="3.7"/><circle cx="479.17" cy="97.03" r="3.7"/><circle cx="480.71" cy="96.97" r="3.7"/><circle cx="481.50" cy="97.78" r="3.7"/><circle cx="482.72" cy="97.61" r="3.7"/><circle cx="483.12" cy="96.62" r="3.7"/><circle cx="484.30" cy="98.17" r="3.7"/><circle cx="484.89" cy="95.56" r="3.7"/><circle cx="486.39" cy="97.17" r="3.7"/><circle cx="487.08" cy="97.20" r="3.7"/><circle cx="487.89" cy="97.33" r="3.7"/><circle cx="488.98" cy="97.91" r="3.7"/><circle cx="489.66" cy="96.37" r="3.7"/><circle cx="490.11" cy="98.19" r="3.7"/><circle cx="491.76" cy="97.42" r="3.7"/>
</g>
<g fill="#2c728e" fill-opacity="0.8"><circle cx="410.65" cy="98.22" r="3.7"/><circle cx="411.31" cy="96.92" r="3.7"/><circle cx="412.45" cy="97.88" r="3.7"/><circle cx="413.03" cy="97.63" r="3.7"/><circle cx="414.32" cy="95.78" r="3.7"/><circle cx="415.22" cy="97.62" r="3.7"/><circle cx="415.65" cy="97.51" r="3.7"/><circle cx="417.09" cy="97.35" r="3.7"/><circle cx="417.54" cy="96.11" r="3.7"/><circle cx="418.42" cy="97.44" r="3.7"/><circle cx="418.96" cy="97.76" r="3.7"/><circle cx="420.09" cy="97.90" r="3.7"/><circle cx="421.36" cy="96.63" r="3.7"/></g>
<g fill="#472d7b" fill-opacity="0.8">
<circle cx="471.02" cy="95.47" r="3.7"/><circle cx="472.48" cy="94.75" r="3.7"/><circle cx="473.88" cy="96.04" r="3.7"/><circle cx="475.31" cy="96.13" r="3.7"/><circle cx="475.67" cy="92.88" r="3.7"/><circle cx="477.00" cy="93.02" r="3.7"/><circle cx="477.97" cy="95.76" r="3.7"/><circle cx="478.94" cy="95.29" r="3.7"/><circle cx="479.88" cy="92.17" r="3.7"/><circle cx="481.42" cy="91.25" r="3.7"/><circle cx="481.89" cy="91.57" r="3.7"/><circle cx="483.64" cy="91.33" r="3.7"/><circle cx="484.71" cy="89.46" r="3.7"/><circle cx="485.57" cy="91.07" r="3.7"/><circle cx="486.55" cy="88.85" r="3.7"/><circle cx="487.52" cy="88.40" r="3.7"/><circle cx="489.75" cy="90.61" r="3.7"/><circle cx="489.73" cy="87.95" r="3.7"/><circle cx="491.84" cy="88.12" r="3.7"/><circle cx="492.61" cy="88.34" r="3.7"/><circle cx="493.37" cy="87.85" r="3.7"/><circle cx="494.19" cy="85.59" r="3.7"/><circle cx="496.06" cy="85.30" r="3.7"/><circle cx="497.40" cy="83.38" r="3.7"/><circle cx="497.57" cy="85.94" r="3.7"/><circle cx="498.89" cy="83.69" r="3.7"/><circle cx="500.47" cy="80.55" r="3.7"/><circle cx="501.32" cy="81.20" r="3.7"/><circle cx="503.00" cy="81.39" r="3.7"/><circle cx="503.20" cy="80.54" r="3.7"/><circle cx="504.69" cy="82.62" r="3.7"/><circle cx="505.16" cy="83.07" r="3.7"/><circle cx="507.43" cy="82.29" r="3.7"/><circle cx="507.54" cy="85.64" r="3.7"/><circle cx="508.12" cy="88.01" r="3.7"/><circle cx="509.95" cy="96.60" r="3.7"/><circle cx="511.04" cy="106.73" r="3.7"/><circle cx="512.85" cy="117.62" r="3.7"/><circle cx="513.16" cy="120.43" r="3.7"/><circle cx="514.38" cy="122.69" r="3.7"/><circle cx="515.69" cy="129.23" r="3.7"/><circle cx="517.13" cy="135.88" r="3.7"/><circle cx="517.65" cy="138.66" r="3.7"/><circle cx="519.14" cy="138.85" r="3.7"/><circle cx="520.05" cy="135.87" r="3.7"/><circle cx="520.87" cy="132.64" r="3.7"/><circle cx="522.10" cy="127.52" r="3.7"/><circle cx="523.18" cy="122.00" r="3.7"/><circle cx="523.95" cy="120.23" r="3.7"/><circle cx="525.79" cy="114.81" r="3.7"/><circle cx="525.98" cy="111.65" r="3.7"/><circle cx="527.98" cy="107.80" r="3.7"/><circle cx="529.00" cy="106.12" r="3.7"/><circle cx="529.73" cy="105.91" r="3.7"/><circle cx="530.60" cy="101.39" r="3.7"/><circle cx="531.89" cy="102.10" r="3.7"/><circle cx="533.23" cy="101.96" r="3.7"/><circle cx="534.43" cy="99.58" r="3.7"/><circle cx="535.37" cy="99.69" r="3.7"/><circle cx="536.71" cy="97.55" r="3.7"/><circle cx="537.27" cy="100.45" r="3.7"/><circle cx="538.65" cy="99.96" r="3.7"/><circle cx="539.12" cy="98.65" r="3.7"/><circle cx="541.03" cy="95.91" r="3.7"/><circle cx="541.92" cy="96.70" r="3.7"/><circle cx="542.82" cy="99.22" r="3.7"/><circle cx="544.47" cy="100.09" r="3.7"/><circle cx="545.41" cy="98.18" r="3.7"/><circle cx="545.28" cy="99.35" r="3.7"/><circle cx="547.38" cy="96.88" r="3.7"/><circle cx="547.96" cy="97.38" r="3.7"/><circle cx="549.94" cy="97.60" r="3.7"/><circle cx="551.54" cy="98.14" r="3.7"/><circle cx="551.58" cy="95.60" r="3.7"/><circle cx="552.89" cy="98.80" r="3.7"/><circle cx="553.88" cy="99.29" r="3.7"/><circle cx="555.19" cy="96.07" r="3.7"/><circle cx="556.39" cy="95.80" r="3.7"/><circle cx="557.72" cy="98.01" r="3.7"/><circle cx="558.02" cy="96.70" r="3.7"/><circle cx="560.02" cy="94.46" r="3.7"/><circle cx="560.24" cy="98.59" r="3.7"/><circle cx="561.76" cy="97.74" r="3.7"/><circle cx="563.17" cy="96.91" r="3.7"/><circle cx="564.12" cy="100.28" r="3.7"/><circle cx="564.64" cy="97.71" r="3.7"/><circle cx="565.82" cy="96.54" r="3.7"/><circle cx="567.00" cy="97.65" r="3.7"/><circle cx="568.25" cy="96.17" r="3.7"/><circle cx="569.77" cy="96.52" r="3.7"/><circle cx="570.01" cy="98.01" r="3.7"/><circle cx="571.73" cy="96.79" r="3.7"/><circle cx="572.88" cy="96.92" r="3.7"/><circle cx="573.96" cy="99.68" r="3.7"/><circle cx="575.03" cy="98.62" r="3.7"/><circle cx="576.50" cy="98.55" r="3.7"/><circle cx="577.24" cy="98.19" r="3.7"/><circle cx="578.47" cy="98.13" r="3.7"/><circle cx="579.46" cy="99.40" r="3.7"/><circle cx="580.99" cy="97.48" r="3.7"/><circle cx="580.80" cy="99.91" r="3.7"/><circle cx="583.01" cy="96.26" r="3.7"/><circle cx="583.57" cy="97.17" r="3.7"/>
</g>
<g fill="#440154" fill-opacity="0.8">
<circle cx="565.92" cy="95.49" r="3.7"/><circle cx="566.42" cy="94.38" r="3.7"/><circle cx="567.67" cy="93.05" r="3.7"/><circle cx="568.90" cy="94.34" r="3.7"/><circle cx="569.52" cy="93.67" r="3.7"/><circle cx="570.65" cy="94.64" r="3.7"/><circle cx="572.13" cy="92.16" r="3.7"/><circle cx="573.09" cy="95.03" r="3.7"/><circle cx="573.93" cy="93.45" r="3.7"/><circle cx="575.54" cy="92.60" r="3.7"/><circle cx="576.41" cy="91.83" r="3.7"/><circle cx="577.96" cy="91.46" r="3.7"/><circle cx="578.70" cy="90.78" r="3.7"/><circle cx="579.69" cy="91.07" r="3.7"/><circle cx="580.94" cy="91.24" r="3.7"/><circle cx="581.94" cy="90.50" r="3.7"/><circle cx="582.87" cy="88.55" r="3.7"/><circle cx="584.06" cy="89.22" r="3.7"/><circle cx="585.56" cy="87.95" r="3.7"/><circle cx="586.63" cy="88.44" r="3.7"/><circle cx="587.95" cy="89.78" r="3.7"/><circle cx="588.01" cy="88.19" r="3.7"/><circle cx="589.56" cy="87.06" r="3.7"/><circle cx="590.65" cy="85.87" r="3.7"/><circle cx="591.96" cy="86.84" r="3.7"/><circle cx="592.84" cy="87.56" r="3.7"/><circle cx="593.92" cy="92.14" r="3.7"/><circle cx="595.47" cy="93.16" r="3.7"/><circle cx="596.36" cy="97.63" r="3.7"/><circle cx="596.99" cy="100.88" r="3.7"/><circle cx="598.96" cy="105.15" r="3.7"/><circle cx="599.94" cy="109.82" r="3.7"/><circle cx="600.49" cy="110.41" r="3.7"/><circle cx="602.09" cy="113.36" r="3.7"/><circle cx="602.64" cy="114.92" r="3.7"/><circle cx="604.39" cy="118.35" r="3.7"/><circle cx="605.02" cy="115.89" r="3.7"/><circle cx="605.91" cy="114.11" r="3.7"/><circle cx="607.16" cy="112.10" r="3.7"/><circle cx="608.13" cy="110.41" r="3.7"/><circle cx="609.56" cy="110.77" r="3.7"/><circle cx="610.65" cy="111.53" r="3.7"/><circle cx="611.71" cy="106.12" r="3.7"/><circle cx="612.60" cy="106.87" r="3.7"/><circle cx="612.61" cy="104.93" r="3.7"/><circle cx="615.03" cy="102.56" r="3.7"/><circle cx="615.43" cy="102.73" r="3.7"/><circle cx="617.28" cy="102.13" r="3.7"/><circle cx="618.69" cy="101.06" r="3.7"/><circle cx="619.49" cy="103.44" r="3.7"/><circle cx="620.36" cy="98.76" r="3.7"/><circle cx="621.53" cy="100.85" r="3.7"/><circle cx="622.65" cy="100.41" r="3.7"/><circle cx="623.60" cy="99.08" r="3.7"/><circle cx="624.69" cy="99.62" r="3.7"/><circle cx="625.67" cy="100.21" r="3.7"/><circle cx="627.51" cy="99.23" r="3.7"/><circle cx="628.19" cy="99.36" r="3.7"/><circle cx="629.63" cy="99.53" r="3.7"/><circle cx="630.31" cy="96.43" r="3.7"/><circle cx="631.52" cy="100.20" r="3.7"/><circle cx="632.53" cy="100.99" r="3.7"/><circle cx="633.85" cy="99.48" r="3.7"/><circle cx="635.08" cy="99.44" r="3.7"/><circle cx="635.98" cy="96.71" r="3.7"/><circle cx="636.76" cy="98.07" r="3.7"/><circle cx="637.82" cy="97.26" r="3.7"/><circle cx="639.77" cy="97.47" r="3.7"/><circle cx="640.19" cy="99.17" r="3.7"/><circle cx="641.29" cy="97.22" r="3.7"/><circle cx="643.01" cy="97.96" r="3.7"/><circle cx="643.97" cy="96.00" r="3.7"/><circle cx="644.88" cy="97.93" r="3.7"/><circle cx="645.65" cy="98.20" r="3.7"/><circle cx="647.72" cy="97.32" r="3.7"/><circle cx="648.13" cy="97.31" r="3.7"/><circle cx="649.28" cy="100.18" r="3.7"/><circle cx="650.13" cy="96.77" r="3.7"/><circle cx="650.80" cy="96.94" r="3.7"/><circle cx="651.93" cy="97.21" r="3.7"/><circle cx="653.64" cy="99.42" r="3.7"/><circle cx="654.73" cy="100.41" r="3.7"/><circle cx="655.61" cy="98.47" r="3.7"/><circle cx="656.38" cy="97.31" r="3.7"/><circle cx="657.39" cy="97.63" r="3.7"/><circle cx="658.88" cy="99.27" r="3.7"/><circle cx="659.58" cy="97.10" r="3.7"/><circle cx="661.51" cy="99.70" r="3.7"/><circle cx="662.70" cy="99.66" r="3.7"/><circle cx="664.38" cy="98.18" r="3.7"/><circle cx="664.80" cy="98.81" r="3.7"/><circle cx="665.39" cy="98.92" r="3.7"/><circle cx="666.39" cy="99.81" r="3.7"/><circle cx="666.58" cy="96.94" r="3.7"/><circle cx="668.68" cy="99.40" r="3.7"/><circle cx="669.93" cy="97.69" r="3.7"/><circle cx="671.43" cy="97.26" r="3.7"/><circle cx="672.41" cy="98.21" r="3.7"/><circle cx="673.50" cy="97.86" r="3.7"/><circle cx="674.47" cy="97.01" r="3.7"/><circle cx="675.72" cy="96.34" r="3.7"/><circle cx="677.10" cy="97.06" r="3.7"/><circle cx="677.32" cy="99.70" r="3.7"/><circle cx="678.63" cy="100.26" r="3.7"/><circle cx="679.41" cy="98.82" r="3.7"/>
</g>
<path d="M56.10,97.60 L56.28,97.58 L56.45,97.56 L56.63,97.54 L56.80,97.51 L56.98,97.47 L57.15,97.44 L57.33,97.39 L57.50,97.35 L57.68,97.30 L57.85,97.24 L58.03,97.19 L58.21,97.13 L58.38,97.06 L58.56,96.99 L58.73,96.92 L58.91,96.85 L59.08,96.77 L59.26,96.69 L59.43,96.61 L59.61,96.53 L59.79,96.44 L59.96,96.35 L60.14,96.26 L60.31,96.16 L60.49,96.07 L60.66,95.97 L60.84,95.87 L61.01,95.76 L61.19,95.66 L61.36,95.55 L61.54,95.45 L61.72,95.34 L61.89,95.23 L62.07,95.11 L62.24,95.00 L62.42,94.89 L62.59,94.77 L62.77,94.66 L62.94,94.54 L63.12,94.42 L63.29,94.31 L63.47,94.19 L63.65,94.07 L63.82,93.95 L64.00,93.82 L64.17,93.70 L64.35,93.57 L64.52,93.43 L64.70,93.29 L64.87,93.15 L65.05,93.00 L65.22,92.85 L65.40,92.69 L65.58,92.53 L65.75,92.36 L65.93,92.19 L66.10,92.01 L66.28,91.83 L66.45,91.63 L66.63,91.44 L66.80,91.23 L66.98,91.02 L67.16,90.80 L67.33,90.57 L67.51,90.34 L67.68,90.10 L67.86,89.85 L68.03,89.59 L68.21,89.32 L68.38,89.04 L68.56,88.76 L68.73,88.46 L68.91,88.16 L69.09,87.84 L69.26,87.49 L69.44,87.09 L69.61,86.66 L69.79,86.19 L69.96,85.68 L70.14,85.14 L70.31,84.56 L70.49,83.95 L70.66,83.31 L70.84,82.64 L71.02,81.94 L71.19,81.22 L71.37,80.46 L71.54,79.69 L71.72,78.88 L71.89,78.05 L72.07,77.14 L72.24,76.14 L72.42,75.07 L72.60,73.92 L72.77,72.71 L72.95,71.43 L73.12,70.09 L73.30,68.69 L73.47,67.24 L73.65,65.75 L73.82,64.22 L74.00,62.64 L74.17,61.04 L74.35,59.37 L74.53,57.59 L74.70,55.70 L74.88,53.71 L75.05,51.63 L75.23,49.45 L75.40,47.19 L75.58,44.86 L75.75,42.45 L75.93,39.97 L76.10,36.69 L76.28,32.83 L76.46,29.15 L76.63,26.42 L76.81,25.40 L76.98,28.54 L77.16,36.03 L77.33,45.71 L77.51,55.44 L77.68,63.91 L77.86,73.56 L78.03,87.84 L78.21,126.78 L78.39,158.03 L78.56,172.58 L78.74,184.71 L78.91,194.47 L79.09,201.91 L79.26,207.11 L79.44,210.12 L79.61,210.98 L79.79,208.30 L79.97,202.20 L80.14,194.37 L80.32,186.48 L80.49,180.23 L80.67,175.73 L80.84,171.66 L81.02,167.89 L81.19,164.30 L81.37,160.77 L81.54,157.17 L81.72,153.45 L81.90,149.74 L82.07,146.04 L82.25,142.37 L82.42,138.73 L82.60,135.12 L82.77,131.56 L82.95,128.03 L83.12,124.40 L83.30,120.38 L83.47,116.23 L83.65,112.24 L83.83,108.71 L84.00,105.91 L84.18,104.14 L84.35,103.19 L84.53,102.37 L84.70,101.66 L84.88,101.05 L85.05,100.56 L85.23,100.18 L85.41,99.90 L85.58,99.73 L85.76,99.57 L85.93,99.42 L86.11,99.28 L86.28,99.14 L86.46,99.01 L86.63,98.89 L86.81,98.78 L86.98,98.67 L87.16,98.57 L87.34,98.48 L87.51,98.39 L87.69,98.31 L87.86,98.24 L88.04,98.17 L88.21,98.12 L88.39,98.06 L88.56,98.02 L88.74,97.98 L88.91,97.95 L89.09,97.93 L89.27,97.91 L89.44,97.90 L89.62,97.90 L89.79,97.90 L89.97,97.90 L90.14,97.90 L90.32,97.90 L90.49,97.90 L90.67,97.90 L90.84,97.90 L91.02,97.90 L91.20,97.90 L91.37,97.90 L91.55,97.90 L91.72,97.90 L91.90,97.90 L92.07,97.90 L92.25,97.90 L92.42,97.90 L92.60,97.90 L92.78,97.90 L92.95,97.90 L93.13,97.90 L93.30,97.90 L93.48,97.90 L93.65,97.90 L93.83,97.90 L94.00,97.90 L94.18,97.90 L94.35,97.90 L94.53,97.90 L94.71,97.90 L94.88,97.90 L95.06,97.90 L95.23,97.90 L95.41,97.90 L95.58,97.90 L95.76,97.90 L95.93,97.90 L96.11,97.90 L96.28,97.90 L96.46,97.90 L96.64,97.90 L96.81,97.90 L96.99,97.90 L97.16,97.90 L97.34,97.90 L97.51,97.90 L97.69,97.90 L97.86,97.90 L98.04,97.90 L98.22,97.90 L98.39,97.90 L98.57,97.90 L98.74,97.90 L98.92,97.90 L99.09,97.90 L99.27,97.90 L99.44,97.90 L99.62,97.90 L99.79,97.90 L99.97,97.90 L100.15,97.90 L100.32,97.90 L100.50,97.90 L100.67,97.90 L100.85,97.90 L101.02,97.90 L101.20,97.90 L101.37,97.90 L101.55,97.90 L101.72,97.90 L101.90,97.90 L102.08,97.90 L102.25,97.90 L102.43,97.90 L102.60,97.90 L102.78,97.90 L102.95,97.90 L103.13,97.90 L103.30,97.90 L103.48,97.90 L103.65,97.90 L103.83,97.90 L104.01,97.90 L104.18,97.90 L104.36,97.90 L104.53,97.90 L104.71,97.90 L104.88,97.90 L105.06,97.90 L105.23,97.90 L105.41,97.90 L105.59,97.90 L105.76,97.90 L105.94,97.90 L106.11,97.90 L106.29,97.90 L106.46,97.90 L106.64,97.90 L106.81,97.90 L106.99,97.90 L107.16,97.90 L107.34,97.90 L107.52,97.90 L107.69,97.90 L107.87,97.90 L108.04,97.90 L108.22,97.90 L108.39,97.90 L108.57,97.90" fill="none" stroke="#c0c0c0" stroke-width="1.5" stroke-linejoin="round"/>
<path d="M87.40,97.40 L87.60,97.39 L87.81,97.37 L88.01,97.35 L88.21,97.33 L88.41,97.31 L88.62,97.28 L88.82,97.26 L89.02,97.23 L89.23,97.20 L89.43,97.17 L89.63,97.14 L89.83,97.10 L90.04,97.07 L90.24,97.03 L90.44,96.99 L90.65,96.95 L90.85,96.91 L91.05,96.87 L91.25,96.82 L91.46,96.78 L91.66,96.73 L91.86,96.69 L92.07,96.64 L92.27,96.59 L92.47,96.54 L92.67,96.49 L92.88,96.44 L93.08,96.39 L93.28,96.34 L93.49,96.29 L93.69,96.24 L93.89,96.18 L94.09,96.13 L94.30,96.07 L94.50,96.02 L94.70,95.96 L94.90,95.90 L95.11,95.84 L95.31,95.78 L95.51,95.71 L95.72,95.64 L95.92,95.57 L96.12,95.50 L96.32,95.43 L96.53,95.35 L96.73,95.27 L96.93,95.19 L97.14,95.10 L97.34,95.01 L97.54,94.92 L97.74,94.83 L97.95,94.73 L98.15,94.63 L98.35,94.53 L98.56,94.42 L98.76,94.31 L98.96,94.20 L99.16,94.08 L99.37,93.96 L99.57,93.83 L99.77,93.69 L99.98,93.55 L100.18,93.40 L100.38,93.23 L100.58,93.06 L100.79,92.88 L100.99,92.70 L101.19,92.50 L101.40,92.30 L101.60,92.09 L101.80,91.87 L102.00,91.64 L102.21,91.40 L102.41,91.16 L102.61,90.90 L102.82,90.64 L103.02,90.37 L103.22,90.09 L103.42,89.81 L103.63,89.51 L103.83,89.19 L104.03,88.83 L104.24,88.46 L104.44,88.05 L104.64,87.63 L104.84,87.18 L105.05,86.71 L105.25,86.22 L105.45,85.72 L105.66,85.20 L105.86,84.67 L106.06,84.12 L106.26,83.56 L106.47,82.99 L106.67,82.40 L106.87,81.76 L107.08,81.08 L107.28,80.36 L107.48,79.62 L107.68,78.85 L107.89,78.07 L108.09,77.28 L108.29,76.49 L108.49,75.70 L108.70,74.92 L108.90,74.08 L109.10,73.19 L109.31,72.28 L109.51,71.39 L109.71,70.53 L109.91,69.73 L110.12,69.03 L110.32,68.45 L110.52,67.90 L110.73,67.35 L110.93,66.86 L111.13,66.50 L111.33,66.31 L111.54,66.44 L111.74,67.08 L111.94,68.07 L112.15,69.25 L112.35,70.42 L112.55,71.42 L112.75,72.27 L112.96,73.21 L113.16,74.47 L113.36,76.31 L113.57,80.01 L113.77,94.81 L113.97,109.69 L114.17,123.26 L114.38,134.12 L114.58,141.53 L114.78,148.29 L114.99,153.65 L115.19,156.80 L115.39,157.06 L115.59,155.03 L115.80,151.40 L116.00,146.78 L116.20,141.75 L116.41,136.90 L116.61,132.83 L116.81,129.88 L117.01,127.18 L117.22,124.61 L117.42,122.17 L117.62,119.87 L117.83,117.72 L118.03,115.73 L118.23,113.92 L118.43,112.29 L118.64,110.81 L118.84,109.38 L119.04,107.99 L119.25,106.69 L119.45,105.48 L119.65,104.40 L119.85,103.46 L120.06,102.68 L120.26,102.09 L120.46,101.65 L120.67,101.23 L120.87,100.83 L121.07,100.44 L121.27,100.08 L121.48,99.74 L121.68,99.41 L121.88,99.11 L122.08,98.83 L122.29,98.58 L122.49,98.35 L122.69,98.15 L122.90,97.97 L123.10,97.82 L123.30,97.69 L123.50,97.60 L123.71,97.53 L123.91,97.50 L124.11,97.48 L124.32,97.46 L124.52,97.44 L124.72,97.42 L124.92,97.40 L125.13,97.38 L125.33,97.37 L125.53,97.35 L125.74,97.34 L125.94,97.32 L126.14,97.31 L126.34,97.30 L126.55,97.29 L126.75,97.27 L126.95,97.26 L127.16,97.26 L127.36,97.25 L127.56,97.24 L127.76,97.23 L127.97,97.23 L128.17,97.22 L128.37,97.21 L128.58,97.21 L128.78,97.21 L128.98,97.20 L129.18,97.20 L129.39,97.20 L129.59,97.20 L129.79,97.20 L130.00,97.20 L130.20,97.20 L130.40,97.20 L130.60,97.20 L130.81,97.20 L131.01,97.20 L131.21,97.20 L131.42,97.20 L131.62,97.20 L131.82,97.20 L132.02,97.20 L132.23,97.20 L132.43,97.20 L132.63,97.20 L132.84,97.20 L133.04,97.20 L133.24,97.20 L133.44,97.20 L133.65,97.20 L133.85,97.20 L134.05,97.20 L134.26,97.20 L134.46,97.21 L134.66,97.21 L134.86,97.21 L135.07,97.21 L135.27,97.21 L135.47,97.21 L135.67,97.21 L135.88,97.21 L136.08,97.21 L136.28,97.21 L136.49,97.21 L136.69,97.22 L136.89,97.22 L137.09,97.22 L137.30,97.22 L137.50,97.22 L137.70,97.22 L137.91,97.23 L138.11,97.23 L138.31,97.23 L138.51,97.23 L138.72,97.23 L138.92,97.24 L139.12,97.24 L139.33,97.24 L139.53,97.24 L139.73,97.25 L139.93,97.25 L140.14,97.25 L140.34,97.26 L140.54,97.26 L140.75,97.26 L140.95,97.27 L141.15,97.27 L141.35,97.28 L141.56,97.28 L141.76,97.28 L141.96,97.29 L142.17,97.29 L142.37,97.30 L142.57,97.30 L142.77,97.31 L142.98,97.31 L143.18,97.32 L143.38,97.32 L143.59,97.33 L143.79,97.33 L143.99,97.34 L144.19,97.34 L144.40,97.35 L144.60,97.36 L144.80,97.36 L145.01,97.37 L145.21,97.38 L145.41,97.38 L145.61,97.39 L145.82,97.40 L146.02,97.41 L146.22,97.41 L146.43,97.42 L146.63,97.43 L146.83,97.44 L147.03,97.45 L147.24,97.46 L147.44,97.46 L147.64,97.47 L147.85,97.48 L148.05,97.49" fill="none" stroke="#c0c0c0" stroke-width="1.5" stroke-linejoin="round"/>
<path d="M130.20,96.90 L130.43,96.90 L130.66,96.89 L130.88,96.89 L131.11,96.88 L131.34,96.87 L131.57,96.85 L131.80,96.84 L132.03,96.82 L132.25,96.80 L132.48,96.78 L132.71,96.76 L132.94,96.73 L133.17,96.71 L133.39,96.68 L133.62,96.65 L133.85,96.62 L134.08,96.59 L134.31,96.55 L134.54,96.52 L134.76,96.48 L134.99,96.45 L135.22,96.41 L135.45,96.37 L135.68,96.33 L135.90,96.29 L136.13,96.25 L136.36,96.21 L136.59,96.17 L136.82,96.13 L137.05,96.09 L137.27,96.05 L137.50,96.00 L137.73,95.95 L137.96,95.90 L138.19,95.84 L138.41,95.78 L138.64,95.72 L138.87,95.65 L139.10,95.58 L139.33,95.51 L139.56,95.43 L139.78,95.35 L140.01,95.27 L140.24,95.19 L140.47,95.10 L140.70,95.01 L140.92,94.92 L141.15,94.83 L141.38,94.73 L141.61,94.64 L141.84,94.54 L142.07,94.43 L142.29,94.33 L142.52,94.23 L142.75,94.12 L142.98,94.01 L143.21,93.90 L143.44,93.78 L143.66,93.65 L143.89,93.52 L144.12,93.38 L144.35,93.23 L144.58,93.08 L144.80,92.92 L145.03,92.76 L145.26,92.59 L145.49,92.42 L145.72,92.24 L145.95,92.06 L146.17,91.87 L146.40,91.69 L146.63,91.49 L146.86,91.30 L147.09,91.10 L147.31,90.90 L147.54,90.70 L147.77,90.49 L148.00,90.28 L148.23,90.06 L148.46,89.84 L148.68,89.61 L148.91,89.36 L149.14,89.11 L149.37,88.85 L149.60,88.58 L149.82,88.29 L150.05,87.99 L150.28,87.67 L150.51,87.34 L150.74,86.98 L150.97,86.58 L151.19,86.15 L151.42,85.67 L151.65,85.17 L151.88,84.64 L152.11,84.08 L152.33,83.50 L152.56,82.91 L152.79,82.30 L153.02,81.69 L153.25,81.07 L153.48,80.40 L153.70,79.67 L153.93,78.90 L154.16,78.11 L154.39,77.31 L154.62,76.52 L154.84,75.76 L155.07,75.05 L155.30,74.40 L155.53,73.76 L155.76,73.08 L155.99,72.38 L156.21,71.68 L156.44,71.01 L156.67,70.39 L156.90,69.83 L157.13,69.36 L157.35,69.00 L157.58,68.78 L157.81,68.70 L158.04,69.27 L158.27,70.71 L158.50,72.81 L158.72,75.35 L158.95,78.11 L159.18,81.47 L159.41,86.18 L159.64,91.52 L159.86,96.77 L160.09,102.26 L160.32,107.98 L160.55,113.56 L160.78,118.70 L161.01,123.65 L161.23,128.42 L161.46,132.86 L161.69,136.84 L161.92,140.75 L162.15,144.83 L162.37,148.57 L162.60,151.44 L162.83,152.91 L163.06,152.59 L163.29,150.78 L163.52,147.87 L163.74,144.25 L163.97,140.29 L164.20,136.39 L164.43,132.93 L164.66,130.00 L164.88,126.97 L165.11,123.88 L165.34,120.86 L165.57,118.01 L165.80,115.45 L166.03,113.30 L166.25,111.65 L166.48,110.23 L166.71,108.89 L166.94,107.64 L167.17,106.48 L167.39,105.42 L167.62,104.44 L167.85,103.57 L168.08,102.79 L168.31,102.12 L168.54,101.55 L168.76,101.08 L168.99,100.64 L169.22,100.22 L169.45,99.81 L169.68,99.42 L169.91,99.05 L170.13,98.70 L170.36,98.38 L170.59,98.10 L170.82,97.84 L171.05,97.63 L171.27,97.45 L171.50,97.32 L171.73,97.24 L171.96,97.20 L172.19,97.20 L172.42,97.20 L172.64,97.21 L172.87,97.21 L173.10,97.21 L173.33,97.22 L173.56,97.23 L173.78,97.23 L174.01,97.24 L174.24,97.25 L174.47,97.26 L174.70,97.27 L174.93,97.28 L175.15,97.29 L175.38,97.30 L175.61,97.31 L175.84,97.32 L176.07,97.33 L176.29,97.34 L176.52,97.35 L176.75,97.36 L176.98,97.37 L177.21,97.37 L177.44,97.38 L177.66,97.39 L177.89,97.39 L178.12,97.40 L178.35,97.40 L178.58,97.40 L178.80,97.40 L179.03,97.40 L179.26,97.40 L179.49,97.40 L179.72,97.40 L179.95,97.40 L180.17,97.40 L180.40,97.40 L180.63,97.40 L180.86,97.40 L181.09,97.40 L181.31,97.40 L181.54,97.40 L181.77,97.40 L182.00,97.40 L182.23,97.40 L182.46,97.40 L182.68,97.40 L182.91,97.40 L183.14,97.40 L183.37,97.40 L183.60,97.40 L183.82,97.40 L184.05,97.40 L184.28,97.40 L184.51,97.40 L184.74,97.40 L184.97,97.40 L185.19,97.40 L185.42,97.40 L185.65,97.40 L185.88,97.40 L186.11,97.40 L186.33,97.40 L186.56,97.40 L186.79,97.40 L187.02,97.40 L187.25,97.40 L187.48,97.40 L187.70,97.40 L187.93,97.40 L188.16,97.40 L188.39,97.40 L188.62,97.40 L188.84,97.40 L189.07,97.40 L189.30,97.40 L189.53,97.40 L189.76,97.40 L189.99,97.40 L190.21,97.40 L190.44,97.40 L190.67,97.40 L190.90,97.40 L191.13,97.40 L191.35,97.40 L191.58,97.40 L191.81,97.40 L192.04,97.40 L192.27,97.40 L192.50,97.40 L192.72,97.40 L192.95,97.40 L193.18,97.40 L193.41,97.40 L193.64,97.40 L193.87,97.40 L194.09,97.40 L194.32,97.40 L194.55,97.40 L194.78,97.40 L195.01,97.40 L195.23,97.40 L195.46,97.40 L195.69,97.40 L195.92,97.40 L196.15,97.40 L196.38,97.40 L196.60,97.40 L196.83,97.40 L197.06,97.40 L197.29,97.40 L197.52,97.40 L197.74,97.40 L197.97,97.40 L198.20,97.40 L198.43,97.40" fill="none" stroke="#c0c0c0" stroke-width="1.5" stroke-linejoin="round"/>
<path d="M188.90,96.40 L189.13,96.38 L189.36,96.37 L189.59,96.35 L189.82,96.32 L190.05,96.30 L190.28,96.27 L190.51,96.24 L190.74,96.20 L190.97,96.17 L191.20,96.13 L191.43,96.09 L191.66,96.05 L191.89,96.01 L192.12,95.96 L192.35,95.91 L192.58,95.86 L192.81,95.81 L193.04,95.76 L193.27,95.71 L193.50,95.65 L193.73,95.59 L193.96,95.53 L194.19,95.47 L194.42,95.41 L194.65,95.35 L194.88,95.28 L195.12,95.22 L195.35,95.15 L195.58,95.09 L195.81,95.02 L196.04,94.95 L196.27,94.88 L196.50,94.81 L196.73,94.74 L196.96,94.67 L197.19,94.59 L197.42,94.52 L197.65,94.45 L197.88,94.38 L198.11,94.30 L198.34,94.22 L198.57,94.14 L198.80,94.05 L199.03,93.96 L199.26,93.87 L199.49,93.78 L199.72,93.68 L199.95,93.58 L200.18,93.47 L200.41,93.36 L200.64,93.25 L200.87,93.14 L201.10,93.02 L201.33,92.90 L201.56,92.77 L201.79,92.65 L202.02,92.52 L202.25,92.38 L202.48,92.25 L202.71,92.11 L202.94,91.96 L203.17,91.82 L203.40,91.67 L203.63,91.51 L203.86,91.36 L204.09,91.19 L204.32,91.01 L204.55,90.81 L204.78,90.61 L205.01,90.39 L205.24,90.17 L205.47,89.94 L205.70,89.70 L205.93,89.45 L206.16,89.20 L206.39,88.94 L206.62,88.69 L206.85,88.43 L207.09,88.16 L207.32,87.90 L207.55,87.64 L207.78,87.39 L208.01,87.13 L208.24,86.88 L208.47,86.64 L208.70,86.39 L208.93,86.13 L209.16,85.86 L209.39,85.59 L209.62,85.32 L209.85,85.05 L210.08,84.78 L210.31,84.52 L210.54,84.28 L210.77,84.05 L211.00,83.84 L211.23,83.65 L211.46,83.48 L211.69,83.31 L211.92,83.14 L212.15,82.97 L212.38,82.83 L212.61,82.71 L212.84,82.63 L213.07,82.60 L213.30,82.66 L213.53,82.89 L213.76,83.27 L213.99,83.78 L214.22,84.42 L214.45,85.17 L214.68,86.01 L214.91,86.94 L215.14,87.94 L215.37,89.28 L215.60,91.46 L215.83,94.10 L216.06,96.82 L216.29,99.24 L216.52,101.59 L216.75,103.94 L216.98,106.29 L217.21,108.64 L217.44,111.03 L217.67,113.44 L217.90,115.81 L218.13,118.08 L218.36,120.25 L218.59,122.43 L218.82,124.54 L219.06,126.49 L219.29,128.18 L219.52,129.59 L219.75,131.00 L219.98,132.26 L220.21,133.13 L220.44,133.39 L220.67,133.11 L220.90,132.46 L221.13,131.48 L221.36,130.26 L221.59,128.84 L221.82,127.29 L222.05,125.68 L222.28,124.06 L222.51,122.50 L222.74,121.06 L222.97,119.70 L223.20,118.24 L223.43,116.70 L223.66,115.12 L223.89,113.57 L224.12,112.08 L224.35,110.70 L224.58,109.48 L224.81,108.46 L225.04,107.57 L225.27,106.72 L225.50,105.92 L225.73,105.17 L225.96,104.48 L226.19,103.86 L226.42,103.30 L226.65,102.82 L226.88,102.43 L227.11,102.09 L227.34,101.77 L227.57,101.47 L227.80,101.18 L228.03,100.92 L228.26,100.67 L228.49,100.44 L228.72,100.23 L228.95,100.04 L229.18,99.86 L229.41,99.71 L229.64,99.57 L229.87,99.46 L230.10,99.36 L230.33,99.26 L230.56,99.17 L230.79,99.08 L231.03,98.99 L231.26,98.90 L231.49,98.82 L231.72,98.74 L231.95,98.66 L232.18,98.58 L232.41,98.51 L232.64,98.43 L232.87,98.37 L233.10,98.30 L233.33,98.24 L233.56,98.18 L233.79,98.12 L234.02,98.07 L234.25,98.02 L234.48,97.97 L234.71,97.93 L234.94,97.89 L235.17,97.85 L235.40,97.82 L235.63,97.79 L235.86,97.76 L236.09,97.74 L236.32,97.73 L236.55,97.71 L236.78,97.70 L237.01,97.70 L237.24,97.70 L237.47,97.69 L237.70,97.69 L237.93,97.69 L238.16,97.69 L238.39,97.69 L238.62,97.68 L238.85,97.68 L239.08,97.68 L239.31,97.68 L239.54,97.67 L239.77,97.67 L240.00,97.67 L240.23,97.67 L240.46,97.67 L240.69,97.66 L240.92,97.66 L241.15,97.66 L241.38,97.66 L241.61,97.66 L241.84,97.65 L242.07,97.65 L242.30,97.65 L242.53,97.65 L242.76,97.65 L243.00,97.65 L243.23,97.64 L243.46,97.64 L243.69,97.64 L243.92,97.64 L244.15,97.64 L244.38,97.64 L244.61,97.64 L244.84,97.63 L245.07,97.63 L245.30,97.63 L245.53,97.63 L245.76,97.63 L245.99,97.63 L246.22,97.63 L246.45,97.63 L246.68,97.62 L246.91,97.62 L247.14,97.62 L247.37,97.62 L247.60,97.62 L247.83,97.62 L248.06,97.62 L248.29,97.62 L248.52,97.62 L248.75,97.62 L248.98,97.61 L249.21,97.61 L249.44,97.61 L249.67,97.61 L249.90,97.61 L250.13,97.61 L250.36,97.61 L250.59,97.61 L250.82,97.61 L251.05,97.61 L251.28,97.61 L251.51,97.61 L251.74,97.61 L251.97,97.61 L252.20,97.61 L252.43,97.61 L252.66,97.60 L252.89,97.60 L253.12,97.60 L253.35,97.60 L253.58,97.60 L253.81,97.60 L254.04,97.60 L254.27,97.60 L254.50,97.60 L254.73,97.60 L254.97,97.60 L255.20,97.60 L255.43,97.60 L255.66,97.60 L255.89,97.60 L256.12,97.60 L256.35,97.60 L256.58,97.60 L256.81,97.60 L257.04,97.60 L257.27,97.60 L257.50,97.60 L257.73,97.60" fill="none" stroke="#c0c0c0" stroke-width="1.5" stroke-linejoin="round"/>
<path d="M252.20,94.20 L252.45,94.09 L252.70,93.98 L252.95,93.87 L253.20,93.75 L253.45,93.64 L253.70,93.52 L253.95,93.40 L254.20,93.27 L254.45,93.15 L254.70,93.02 L254.94,92.89 L255.19,92.76 L255.44,92.63 L255.69,92.50 L255.94,92.36 L256.19,92.23 L256.44,92.09 L256.69,91.95 L256.94,91.81 L257.19,91.66 L257.44,91.52 L257.69,91.37 L257.94,91.23 L258.19,91.08 L258.44,90.93 L258.69,90.78 L258.94,90.62 L259.19,90.47 L259.44,90.31 L259.69,90.15 L259.94,89.98 L260.19,89.82 L260.43,89.65 L260.68,89.48 L260.93,89.30 L261.18,89.12 L261.43,88.94 L261.68,88.75 L261.93,88.57 L262.18,88.37 L262.43,88.18 L262.68,87.98 L262.93,87.77 L263.18,87.57 L263.43,87.36 L263.68,87.14 L263.93,86.92 L264.18,86.70 L264.43,86.47 L264.68,86.23 L264.93,85.99 L265.18,85.74 L265.43,85.48 L265.68,85.21 L265.92,84.93 L266.17,84.64 L266.42,84.34 L266.67,84.03 L266.92,83.71 L267.17,83.35 L267.42,82.98 L267.67,82.58 L267.92,82.17 L268.17,81.74 L268.42,81.29 L268.67,80.83 L268.92,80.35 L269.17,79.87 L269.42,79.37 L269.67,78.87 L269.92,78.37 L270.17,77.86 L270.42,77.34 L270.67,76.80 L270.92,76.24 L271.17,75.67 L271.41,75.08 L271.66,74.48 L271.91,73.86 L272.16,73.23 L272.41,72.59 L272.66,71.93 L272.91,71.24 L273.16,70.51 L273.41,69.74 L273.66,68.96 L273.91,68.17 L274.16,67.38 L274.41,66.61 L274.66,65.87 L274.91,65.16 L275.16,64.51 L275.41,63.85 L275.66,63.14 L275.91,62.42 L276.16,61.75 L276.41,61.17 L276.66,60.74 L276.90,60.52 L277.15,60.54 L277.40,60.74 L277.65,61.12 L277.90,61.65 L278.15,62.32 L278.40,63.13 L278.65,64.05 L278.90,65.08 L279.15,66.20 L279.40,67.41 L279.65,68.67 L279.90,70.00 L280.15,71.53 L280.40,73.56 L280.65,76.22 L280.90,79.64 L281.15,85.00 L281.40,95.07 L281.65,106.24 L281.90,116.41 L282.14,127.19 L282.39,136.75 L282.64,143.17 L282.89,147.65 L283.14,151.48 L283.39,154.78 L283.64,157.66 L283.89,160.21 L284.14,162.56 L284.39,164.82 L284.64,167.15 L284.89,169.55 L285.14,171.83 L285.39,173.81 L285.64,175.30 L285.89,176.11 L286.14,175.95 L286.39,174.38 L286.64,171.64 L286.89,168.08 L287.14,164.05 L287.39,159.89 L287.63,155.93 L287.88,152.47 L288.13,148.96 L288.38,145.29 L288.63,141.58 L288.88,137.94 L289.13,134.49 L289.38,131.35 L289.63,128.57 L289.88,125.91 L290.13,123.38 L290.38,121.03 L290.63,118.91 L290.88,117.07 L291.13,115.53 L291.38,114.08 L291.63,112.69 L291.88,111.37 L292.13,110.12 L292.38,108.94 L292.63,107.85 L292.88,106.85 L293.12,105.94 L293.37,105.14 L293.62,104.44 L293.87,103.85 L294.12,103.37 L294.37,102.94 L294.62,102.53 L294.87,102.15 L295.12,101.80 L295.37,101.48 L295.62,101.18 L295.87,100.92 L296.12,100.67 L296.37,100.45 L296.62,100.26 L296.87,100.08 L297.12,99.93 L297.37,99.79 L297.62,99.66 L297.87,99.53 L298.12,99.42 L298.37,99.31 L298.61,99.21 L298.86,99.12 L299.11,99.04 L299.36,98.96 L299.61,98.89 L299.86,98.83 L300.11,98.78 L300.36,98.72 L300.61,98.67 L300.86,98.63 L301.11,98.58 L301.36,98.54 L301.61,98.50 L301.86,98.46 L302.11,98.42 L302.36,98.39 L302.61,98.35 L302.86,98.32 L303.11,98.29 L303.36,98.26 L303.61,98.23 L303.86,98.21 L304.10,98.18 L304.35,98.16 L304.60,98.13 L304.85,98.11 L305.10,98.09 L305.35,98.07 L305.60,98.05 L305.85,98.03 L306.10,98.01 L306.35,97.99 L306.60,97.97 L306.85,97.95 L307.10,97.93 L307.35,97.91 L307.60,97.89 L307.85,97.87 L308.10,97.85 L308.35,97.84 L308.60,97.82 L308.85,97.81 L309.10,97.79 L309.34,97.78 L309.59,97.76 L309.84,97.75 L310.09,97.74 L310.34,97.73 L310.59,97.72 L310.84,97.72 L311.09,97.71 L311.34,97.71 L311.59,97.70 L311.84,97.70 L312.09,97.70 L312.34,97.70 L312.59,97.70 L312.84,97.70 L313.09,97.70 L313.34,97.70 L313.59,97.70 L313.84,97.70 L314.09,97.70 L314.34,97.70 L314.59,97.70 L314.83,97.70 L315.08,97.70 L315.33,97.70 L315.58,97.70 L315.83,97.70 L316.08,97.70 L316.33,97.70 L316.58,97.70 L316.83,97.70 L317.08,97.70 L317.33,97.70 L317.58,97.70 L317.83,97.70 L318.08,97.70 L318.33,97.70 L318.58,97.70 L318.83,97.70 L319.08,97.70 L319.33,97.70 L319.58,97.70 L319.83,97.70 L320.08,97.70 L320.32,97.70 L320.57,97.70 L320.82,97.70 L321.07,97.70 L321.32,97.70 L321.57,97.70 L321.82,97.70 L322.07,97.70 L322.32,97.70 L322.57,97.70 L322.82,97.70 L323.07,97.70 L323.32,97.70 L323.57,97.70 L323.82,97.70 L324.07,97.70 L324.32,97.70 L324.57,97.70 L324.82,97.70 L325.07,97.70 L325.32,97.70 L325.57,97.70 L325.81,97.70 L326.06,97.70 L326.31,97.70 L326.56,97.70 L326.81,97.70" fill="none" stroke="#c0c0c0" stroke-width="1.5" stroke-linejoin="round"/>
<path d="M318.50,96.90 L318.84,96.89 L319.19,96.88 L319.53,96.86 L319.88,96.84 L320.22,96.81 L320.57,96.79 L320.91,96.75 L321.26,96.72 L321.60,96.68 L321.95,96.64 L322.29,96.60 L322.64,96.55 L322.98,96.51 L323.33,96.46 L323.67,96.40 L324.02,96.35 L324.36,96.29 L324.71,96.23 L325.05,96.17 L325.40,96.11 L325.74,96.05 L326.09,95.99 L326.43,95.92 L326.78,95.86 L327.12,95.79 L327.47,95.72 L327.81,95.66 L328.16,95.59 L328.50,95.52 L328.85,95.44 L329.19,95.36 L329.54,95.27 L329.88,95.17 L330.23,95.08 L330.57,94.97 L330.92,94.87 L331.26,94.75 L331.61,94.64 L331.95,94.52 L332.30,94.39 L332.64,94.27 L332.99,94.14 L333.33,94.00 L333.68,93.87 L334.02,93.73 L334.37,93.59 L334.71,93.45 L335.06,93.30 L335.40,93.15 L335.75,93.01 L336.09,92.86 L336.44,92.70 L336.78,92.55 L337.13,92.40 L337.47,92.23 L337.82,92.06 L338.16,91.88 L338.51,91.70 L338.85,91.50 L339.20,91.31 L339.54,91.10 L339.89,90.90 L340.23,90.69 L340.58,90.48 L340.92,90.27 L341.27,90.05 L341.61,89.84 L341.96,89.63 L342.30,89.42 L342.65,89.21 L342.99,89.00 L343.34,88.79 L343.68,88.57 L344.03,88.33 L344.37,88.10 L344.72,87.86 L345.06,87.64 L345.41,87.42 L345.75,87.23 L346.10,87.06 L346.44,86.92 L346.79,86.80 L347.13,86.68 L347.48,86.59 L347.82,86.52 L348.17,86.50 L348.51,86.66 L348.86,87.03 L349.20,87.55 L349.55,88.22 L349.89,88.98 L350.24,89.80 L350.58,90.65 L350.93,91.69 L351.27,93.07 L351.62,94.68 L351.96,96.43 L352.31,98.19 L352.65,99.87 L353.00,101.47 L353.34,103.12 L353.69,104.78 L354.03,106.43 L354.38,108.03 L354.72,109.55 L355.07,110.97 L355.41,112.38 L355.76,113.75 L356.10,115.06 L356.44,116.27 L356.79,117.34 L357.13,118.25 L357.48,119.18 L357.82,119.99 L358.17,120.46 L358.51,120.41 L358.86,119.91 L359.20,119.10 L359.55,118.08 L359.89,116.97 L360.24,115.87 L360.58,114.85 L360.93,113.69 L361.27,112.41 L361.62,111.08 L361.96,109.78 L362.31,108.57 L362.65,107.52 L363.00,106.68 L363.34,105.93 L363.69,105.22 L364.03,104.55 L364.38,103.92 L364.72,103.33 L365.07,102.80 L365.41,102.33 L365.76,101.92 L366.10,101.57 L366.45,101.28 L366.79,101.03 L367.14,100.78 L367.48,100.56 L367.83,100.35 L368.17,100.15 L368.52,99.97 L368.86,99.81 L369.21,99.66 L369.55,99.52 L369.90,99.40 L370.24,99.29 L370.59,99.20 L370.93,99.12 L371.28,99.05 L371.62,98.97 L371.97,98.91 L372.31,98.85 L372.66,98.79 L373.00,98.73 L373.35,98.68 L373.69,98.64 L374.04,98.59 L374.38,98.55 L374.73,98.51 L375.07,98.47 L375.42,98.43 L375.76,98.39 L376.11,98.36 L376.45,98.32 L376.80,98.28 L377.14,98.24 L377.49,98.21 L377.83,98.17 L378.18,98.13 L378.52,98.10 L378.87,98.06 L379.21,98.03 L379.56,98.00 L379.90,97.97 L380.25,97.94 L380.59,97.91 L380.94,97.89 L381.28,97.87 L381.63,97.85 L381.97,97.83 L382.32,97.82 L382.66,97.81 L383.01,97.80 L383.35,97.80 L383.70,97.80 L384.04,97.80 L384.39,97.80 L384.73,97.80 L385.08,97.80 L385.42,97.80 L385.77,97.80 L386.11,97.80 L386.46,97.80 L386.80,97.80 L387.15,97.80 L387.49,97.80 L387.84,97.80 L388.18,97.80 L388.53,97.80 L388.87,97.80 L389.22,97.80 L389.56,97.80 L389.91,97.80 L390.25,97.80 L390.60,97.80 L390.94,97.80 L391.29,97.80 L391.63,97.80 L391.98,97.80 L392.32,97.80 L392.67,97.80 L393.01,97.80 L393.36,97.80 L393.70,97.80 L394.04,97.80 L394.39,97.80 L394.73,97.80 L395.08,97.80 L395.42,97.80 L395.77,97.80 L396.11,97.80 L396.46,97.80 L396.80,97.80 L397.15,97.80 L397.49,97.80 L397.84,97.80 L398.18,97.80 L398.53,97.80 L398.87,97.80 L399.22,97.80 L399.56,97.80 L399.91,97.80 L400.25,97.80 L400.60,97.80 L400.94,97.80 L401.29,97.80 L401.63,97.80 L401.98,97.80 L402.32,97.80 L402.67,97.80 L403.01,97.80 L403.36,97.80 L403.70,97.80 L404.05,97.80 L404.39,97.80 L404.74,97.80 L405.08,97.80 L405.43,97.80 L405.77,97.80 L406.12,97.80 L406.46,97.80 L406.81,97.80 L407.15,97.80 L407.50,97.80 L407.84,97.80 L408.19,97.80 L408.53,97.80 L408.88,97.80 L409.22,97.80 L409.57,97.80 L409.91,97.80 L410.26,97.80 L410.60,97.80 L410.95,97.80 L411.29,97.80 L411.64,97.80 L411.98,97.80 L412.33,97.80 L412.67,97.80 L413.02,97.80 L413.36,97.80 L413.71,97.80 L414.05,97.80 L414.40,97.80 L414.74,97.80 L415.09,97.80 L415.43,97.80 L415.78,97.80 L416.12,97.80 L416.47,97.80 L416.81,97.80 L417.16,97.80 L417.50,97.80 L417.85,97.80 L418.19,97.80 L418.54,97.80 L418.88,97.80 L419.23,97.80 L419.57,97.80 L419.92,97.80 L420.26,97.80 L420.61,97.80 L420.95,97.80 L421.30,97.80 L421.64,97.80" fill="none" stroke="#c0c0c0" stroke-width="1.5" stroke-linejoin="round"/>
<path d="M386.30,96.40 L386.65,96.36 L387.01,96.32 L387.36,96.28 L387.71,96.24 L388.06,96.20 L388.42,96.15 L388.77,96.10 L389.12,96.05 L389.48,96.00 L389.83,95.95 L390.18,95.89 L390.54,95.83 L390.89,95.77 L391.24,95.71 L391.59,95.65 L391.95,95.59 L392.30,95.53 L392.65,95.46 L393.01,95.40 L393.36,95.33 L393.71,95.26 L394.07,95.19 L394.42,95.12 L394.77,95.05 L395.12,94.97 L395.48,94.90 L395.83,94.82 L396.18,94.74 L396.54,94.66 L396.89,94.58 L397.24,94.50 L397.59,94.41 L397.95,94.32 L398.30,94.23 L398.65,94.13 L399.01,94.04 L399.36,93.94 L399.71,93.84 L400.07,93.74 L400.42,93.63 L400.77,93.53 L401.12,93.42 L401.48,93.31 L401.83,93.19 L402.18,93.08 L402.54,92.96 L402.89,92.84 L403.24,92.72 L403.60,92.59 L403.95,92.47 L404.30,92.34 L404.65,92.20 L405.01,92.07 L405.36,91.93 L405.71,91.78 L406.07,91.63 L406.42,91.47 L406.77,91.31 L407.12,91.15 L407.48,90.98 L407.83,90.81 L408.18,90.63 L408.54,90.44 L408.89,90.26 L409.24,90.07 L409.60,89.87 L409.95,89.67 L410.30,89.46 L410.65,89.26 L411.01,89.04 L411.36,88.82 L411.71,88.60 L412.07,88.37 L412.42,88.12 L412.77,87.87 L413.13,87.61 L413.48,87.33 L413.83,87.06 L414.18,86.77 L414.54,86.48 L414.89,86.18 L415.24,85.87 L415.60,85.56 L415.95,85.25 L416.30,84.93 L416.65,84.61 L417.01,84.28 L417.36,83.95 L417.71,83.59 L418.07,83.22 L418.42,82.83 L418.77,82.43 L419.13,82.03 L419.48,81.62 L419.83,81.22 L420.18,80.83 L420.54,80.45 L420.89,80.09 L421.24,79.76 L421.60,79.42 L421.95,79.05 L422.30,78.67 L422.65,78.30 L423.01,77.94 L423.36,77.63 L423.71,77.36 L424.07,77.16 L424.42,77.03 L424.77,77.00 L425.13,77.08 L425.48,77.26 L425.83,77.52 L426.18,77.84 L426.54,78.21 L426.89,78.61 L427.24,79.17 L427.60,79.96 L427.95,80.99 L428.30,82.39 L428.66,85.19 L429.01,89.11 L429.36,93.31 L429.71,97.04 L430.07,100.55 L430.42,104.05 L430.77,107.55 L431.13,111.07 L431.48,114.76 L431.83,118.44 L432.18,121.85 L432.54,124.81 L432.89,127.59 L433.24,130.26 L433.60,132.72 L433.95,134.91 L434.30,136.75 L434.66,138.22 L435.01,139.64 L435.36,140.93 L435.71,141.92 L436.07,142.45 L436.42,142.37 L436.77,141.70 L437.13,140.57 L437.48,139.12 L437.83,137.48 L438.19,135.78 L438.54,134.17 L438.89,132.71 L439.24,131.17 L439.60,129.53 L439.95,127.84 L440.30,126.14 L440.66,124.48 L441.01,122.89 L441.36,121.43 L441.71,120.10 L442.07,118.80 L442.42,117.54 L442.77,116.31 L443.13,115.12 L443.48,113.98 L443.83,112.90 L444.19,111.88 L444.54,110.93 L444.89,110.05 L445.24,109.24 L445.60,108.45 L445.95,107.69 L446.30,106.95 L446.66,106.24 L447.01,105.57 L447.36,104.93 L447.72,104.34 L448.07,103.79 L448.42,103.30 L448.77,102.86 L449.13,102.47 L449.48,102.12 L449.83,101.79 L450.19,101.47 L450.54,101.16 L450.89,100.88 L451.24,100.61 L451.60,100.36 L451.95,100.14 L452.30,99.93 L452.66,99.75 L453.01,99.58 L453.36,99.45 L453.72,99.33 L454.07,99.22 L454.42,99.12 L454.77,99.03 L455.13,98.94 L455.48,98.86 L455.83,98.78 L456.19,98.71 L456.54,98.64 L456.89,98.58 L457.25,98.52 L457.60,98.47 L457.95,98.41 L458.30,98.37 L458.66,98.32 L459.01,98.27 L459.36,98.23 L459.72,98.18 L460.07,98.14 L460.42,98.09 L460.77,98.05 L461.13,98.01 L461.48,97.96 L461.83,97.92 L462.19,97.88 L462.54,97.85 L462.89,97.81 L463.25,97.78 L463.60,97.74 L463.95,97.72 L464.30,97.69 L464.66,97.67 L465.01,97.65 L465.36,97.63 L465.72,97.62 L466.07,97.61 L466.42,97.60 L466.78,97.60 L467.13,97.60 L467.48,97.60 L467.83,97.60 L468.19,97.60 L468.54,97.60 L468.89,97.60 L469.25,97.60 L469.60,97.60 L469.95,97.60 L470.30,97.60 L470.66,97.60 L471.01,97.60 L471.36,97.60 L471.72,97.60 L472.07,97.60 L472.42,97.60 L472.78,97.60 L473.13,97.60 L473.48,97.60 L473.83,97.60 L474.19,97.60 L474.54,97.60 L474.89,97.60 L475.25,97.60 L475.60,97.60 L475.95,97.60 L476.31,97.60 L476.66,97.60 L477.01,97.60 L477.36,97.60 L477.72,97.60 L478.07,97.60 L478.42,97.60 L478.78,97.60 L479.13,97.60 L479.48,97.60 L479.83,97.60 L480.19,97.60 L480.54,97.60 L480.89,97.60 L481.25,97.60 L481.60,97.60 L481.95,97.60 L482.31,97.60 L482.66,97.60 L483.01,97.60 L483.36,97.60 L483.72,97.60 L484.07,97.60 L484.42,97.60 L484.78,97.60 L485.13,97.60 L485.48,97.60 L485.83,97.60 L486.19,97.60 L486.54,97.60 L486.89,97.60 L487.25,97.60 L487.60,97.60 L487.95,97.60 L488.31,97.60 L488.66,97.60 L489.01,97.60 L489.36,97.60 L489.72,97.60 L490.07,97.60 L490.42,97.60 L490.78,97.60 L491.13,97.60 L491.48,97.60 L491.84,97.60" fill="none" stroke="#c0c0c0" stroke-width="1.5" stroke-linejoin="round"/>
<path d="M471.50,95.10 L471.88,95.05 L472.26,95.00 L472.63,94.94 L473.01,94.88 L473.39,94.81 L473.77,94.75 L474.14,94.68 L474.52,94.60 L474.90,94.52 L475.28,94.44 L475.65,94.36 L476.03,94.27 L476.41,94.18 L476.79,94.09 L477.16,93.99 L477.54,93.90 L477.92,93.80 L478.30,93.70 L478.68,93.59 L479.05,93.49 L479.43,93.38 L479.81,93.27 L480.19,93.16 L480.56,93.05 L480.94,92.94 L481.32,92.81 L481.70,92.69 L482.07,92.56 L482.45,92.42 L482.83,92.28 L483.21,92.14 L483.58,91.99 L483.96,91.83 L484.34,91.68 L484.72,91.51 L485.10,91.35 L485.47,91.18 L485.85,91.01 L486.23,90.84 L486.61,90.66 L486.98,90.48 L487.36,90.29 L487.74,90.11 L488.12,89.92 L488.49,89.73 L488.87,89.54 L489.25,89.34 L489.63,89.14 L490.00,88.94 L490.38,88.74 L490.76,88.53 L491.14,88.31 L491.52,88.08 L491.89,87.84 L492.27,87.61 L492.65,87.36 L493.03,87.11 L493.40,86.86 L493.78,86.60 L494.16,86.34 L494.54,86.07 L494.91,85.81 L495.29,85.54 L495.67,85.27 L496.05,85.00 L496.42,84.73 L496.80,84.46 L497.18,84.18 L497.56,83.91 L497.94,83.65 L498.31,83.37 L498.69,83.09 L499.07,82.79 L499.45,82.50 L499.82,82.20 L500.20,81.90 L500.58,81.62 L500.96,81.35 L501.33,81.10 L501.71,80.86 L502.09,80.60 L502.47,80.34 L502.84,80.12 L503.22,79.96 L503.60,79.90 L503.98,79.97 L504.36,80.15 L504.73,80.43 L505.11,80.77 L505.49,81.16 L505.87,81.58 L506.24,82.12 L506.62,82.82 L507.00,83.66 L507.38,84.61 L507.75,85.63 L508.13,86.78 L508.51,88.10 L508.89,89.63 L509.26,91.40 L509.64,93.45 L510.02,96.51 L510.40,100.36 L510.78,104.06 L511.15,107.03 L511.53,109.76 L511.91,112.33 L512.29,114.74 L512.66,116.98 L513.04,119.06 L513.42,120.99 L513.80,122.79 L514.17,124.50 L514.55,126.15 L514.93,127.77 L515.31,129.37 L515.68,131.04 L516.06,132.96 L516.44,135.01 L516.82,136.99 L517.20,138.73 L517.57,140.04 L517.95,140.73 L518.33,140.70 L518.71,140.13 L519.08,139.17 L519.46,137.91 L519.84,136.48 L520.22,134.99 L520.59,133.53 L520.97,132.19 L521.35,130.75 L521.73,129.20 L522.10,127.59 L522.48,125.96 L522.86,124.38 L523.24,122.90 L523.62,121.53 L523.99,120.18 L524.37,118.85 L524.75,117.55 L525.13,116.29 L525.50,115.08 L525.88,113.93 L526.26,112.86 L526.64,111.86 L527.01,110.93 L527.39,110.01 L527.77,109.12 L528.15,108.26 L528.52,107.44 L528.90,106.66 L529.28,105.93 L529.66,105.25 L530.04,104.63 L530.41,104.08 L530.79,103.59 L531.17,103.13 L531.55,102.68 L531.92,102.24 L532.30,101.82 L532.68,101.42 L533.06,101.04 L533.43,100.68 L533.81,100.35 L534.19,100.05 L534.57,99.78 L534.94,99.55 L535.32,99.35 L535.70,99.19 L536.08,99.08 L536.46,98.98 L536.83,98.89 L537.21,98.81 L537.59,98.72 L537.97,98.64 L538.34,98.57 L538.72,98.50 L539.10,98.44 L539.48,98.37 L539.85,98.32 L540.23,98.26 L540.61,98.21 L540.99,98.16 L541.36,98.11 L541.74,98.07 L542.12,98.03 L542.50,97.99 L542.88,97.96 L543.25,97.93 L543.63,97.90 L544.01,97.87 L544.39,97.84 L544.76,97.81 L545.14,97.79 L545.52,97.77 L545.90,97.75 L546.27,97.72 L546.65,97.70 L547.03,97.68 L547.41,97.66 L547.78,97.65 L548.16,97.63 L548.54,97.62 L548.92,97.61 L549.30,97.60 L549.67,97.60 L550.05,97.60 L550.43,97.60 L550.81,97.59 L551.18,97.59 L551.56,97.59 L551.94,97.59 L552.32,97.58 L552.69,97.58 L553.07,97.58 L553.45,97.58 L553.83,97.57 L554.20,97.57 L554.58,97.57 L554.96,97.57 L555.34,97.57 L555.72,97.56 L556.09,97.56 L556.47,97.56 L556.85,97.56 L557.23,97.56 L557.60,97.55 L557.98,97.55 L558.36,97.55 L558.74,97.55 L559.11,97.55 L559.49,97.55 L559.87,97.54 L560.25,97.54 L560.62,97.54 L561.00,97.54 L561.38,97.54 L561.76,97.54 L562.14,97.54 L562.51,97.53 L562.89,97.53 L563.27,97.53 L563.65,97.53 L564.02,97.53 L564.40,97.53 L564.78,97.53 L565.16,97.53 L565.53,97.52 L565.91,97.52 L566.29,97.52 L566.67,97.52 L567.04,97.52 L567.42,97.52 L567.80,97.52 L568.18,97.52 L568.56,97.52 L568.93,97.52 L569.31,97.51 L569.69,97.51 L570.07,97.51 L570.44,97.51 L570.82,97.51 L571.20,97.51 L571.58,97.51 L571.95,97.51 L572.33,97.51 L572.71,97.51 L573.09,97.51 L573.46,97.51 L573.84,97.51 L574.22,97.51 L574.60,97.51 L574.98,97.51 L575.35,97.50 L575.73,97.50 L576.11,97.50 L576.49,97.50 L576.86,97.50 L577.24,97.50 L577.62,97.50 L578.00,97.50 L578.37,97.50 L578.75,97.50 L579.13,97.50 L579.51,97.50 L579.88,97.50 L580.26,97.50 L580.64,97.50 L581.02,97.50 L581.40,97.50 L581.77,97.50 L582.15,97.50 L582.53,97.50 L582.91,97.50 L583.28,97.50 L583.66,97.50 L584.04,97.50 L584.42,97.50" fill="none" stroke="#c0c0c0" stroke-width="1.5" stroke-linejoin="round"/>
<path d="M565.50,95.80 L565.88,95.68 L566.26,95.56 L566.65,95.44 L567.03,95.31 L567.41,95.20 L567.79,95.08 L568.17,94.96 L568.56,94.84 L568.94,94.72 L569.32,94.61 L569.70,94.49 L570.08,94.37 L570.47,94.26 L570.85,94.15 L571.23,94.03 L571.61,93.92 L571.99,93.81 L572.38,93.70 L572.76,93.59 L573.14,93.47 L573.52,93.37 L573.90,93.26 L574.29,93.16 L574.67,93.06 L575.05,92.96 L575.43,92.87 L575.81,92.78 L576.20,92.68 L576.58,92.59 L576.96,92.49 L577.34,92.40 L577.72,92.30 L578.11,92.19 L578.49,92.09 L578.87,91.97 L579.25,91.85 L579.63,91.73 L580.02,91.59 L580.40,91.45 L580.78,91.29 L581.16,91.11 L581.54,90.93 L581.93,90.74 L582.31,90.53 L582.69,90.33 L583.07,90.12 L583.45,89.91 L583.84,89.70 L584.22,89.50 L584.60,89.30 L584.98,89.11 L585.36,88.89 L585.75,88.66 L586.13,88.43 L586.51,88.21 L586.89,88.00 L587.27,87.82 L587.66,87.68 L588.04,87.59 L588.42,87.53 L588.80,87.47 L589.18,87.43 L589.57,87.40 L589.95,87.41 L590.33,87.48 L590.71,87.62 L591.09,87.82 L591.47,88.07 L591.86,88.36 L592.24,88.69 L592.62,89.03 L593.00,89.42 L593.38,89.96 L593.77,90.65 L594.15,91.45 L594.53,92.33 L594.91,93.28 L595.29,94.25 L595.68,95.39 L596.06,96.69 L596.44,98.10 L596.82,99.52 L597.20,100.91 L597.59,102.18 L597.97,103.40 L598.35,104.60 L598.73,105.77 L599.11,106.91 L599.50,108.01 L599.88,109.04 L600.26,110.04 L600.64,111.03 L601.02,111.98 L601.41,112.89 L601.79,113.72 L602.17,114.47 L602.55,115.16 L602.93,115.88 L603.32,116.56 L603.70,117.11 L604.08,117.44 L604.46,117.48 L604.84,117.26 L605.23,116.86 L605.61,116.33 L605.99,115.71 L606.37,115.05 L606.75,114.42 L607.14,113.85 L607.52,113.30 L607.90,112.73 L608.28,112.14 L608.66,111.54 L609.05,110.94 L609.43,110.35 L609.81,109.79 L610.19,109.25 L610.57,108.73 L610.96,108.21 L611.34,107.69 L611.72,107.18 L612.10,106.68 L612.48,106.19 L612.87,105.73 L613.25,105.30 L613.63,104.90 L614.01,104.54 L614.39,104.23 L614.78,103.94 L615.16,103.66 L615.54,103.39 L615.92,103.14 L616.30,102.90 L616.69,102.68 L617.07,102.46 L617.45,102.25 L617.83,102.05 L618.21,101.86 L618.60,101.68 L618.98,101.50 L619.36,101.33 L619.74,101.17 L620.12,101.01 L620.51,100.85 L620.89,100.70 L621.27,100.55 L621.65,100.41 L622.03,100.27 L622.42,100.14 L622.80,100.01 L623.18,99.89 L623.56,99.78 L623.94,99.68 L624.33,99.58 L624.71,99.50 L625.09,99.42 L625.47,99.34 L625.85,99.27 L626.24,99.20 L626.62,99.14 L627.00,99.07 L627.38,99.01 L627.76,98.96 L628.15,98.90 L628.53,98.85 L628.91,98.81 L629.29,98.77 L629.67,98.73 L630.06,98.70 L630.44,98.66 L630.82,98.63 L631.20,98.60 L631.58,98.57 L631.97,98.54 L632.35,98.51 L632.73,98.48 L633.11,98.45 L633.49,98.42 L633.88,98.39 L634.26,98.36 L634.64,98.34 L635.02,98.31 L635.40,98.29 L635.79,98.26 L636.17,98.24 L636.55,98.22 L636.93,98.20 L637.31,98.18 L637.70,98.17 L638.08,98.15 L638.46,98.14 L638.84,98.13 L639.22,98.12 L639.61,98.11 L639.99,98.11 L640.37,98.10 L640.75,98.10 L641.13,98.10 L641.52,98.10 L641.90,98.10 L642.28,98.10 L642.66,98.10 L643.04,98.10 L643.42,98.10 L643.81,98.10 L644.19,98.10 L644.57,98.10 L644.95,98.10 L645.33,98.10 L645.72,98.10 L646.10,98.10 L646.48,98.10 L646.86,98.10 L647.24,98.10 L647.63,98.10 L648.01,98.10 L648.39,98.10 L648.77,98.10 L649.15,98.10 L649.54,98.10 L649.92,98.10 L650.30,98.10 L650.68,98.10 L651.06,98.10 L651.45,98.10 L651.83,98.10 L652.21,98.10 L652.59,98.10 L652.97,98.10 L653.36,98.10 L653.74,98.10 L654.12,98.10 L654.50,98.10 L654.88,98.10 L655.27,98.10 L655.65,98.10 L656.03,98.10 L656.41,98.10 L656.79,98.10 L657.18,98.10 L657.56,98.10 L657.94,98.10 L658.32,98.10 L658.70,98.10 L659.09,98.10 L659.47,98.10 L659.85,98.10 L660.23,98.10 L660.61,98.10 L661.00,98.10 L661.38,98.10 L661.76,98.10 L662.14,98.10 L662.52,98.10 L662.91,98.10 L663.29,98.10 L663.67,98.10 L664.05,98.10 L664.43,98.10 L664.82,98.10 L665.20,98.10 L665.58,98.10 L665.96,98.10 L666.34,98.10 L666.73,98.10 L667.11,98.10 L667.49,98.10 L667.87,98.10 L668.25,98.10 L668.64,98.10 L669.02,98.10 L669.40,98.10 L669.78,98.10 L670.16,98.10 L670.55,98.10 L670.93,98.10 L671.31,98.10 L671.69,98.10 L672.07,98.10 L672.46,98.10 L672.84,98.10 L673.22,98.10 L673.60,98.10 L673.98,98.10 L674.37,98.10 L674.75,98.10 L675.13,98.10 L675.51,98.10 L675.89,98.10 L676.28,98.10 L676.66,98.10 L677.04,98.10 L677.42,98.10 L677.80,98.10 L678.19,98.10 L678.57,98.10 L678.95,98.10 L679.33,98.10 L679.71,98.10" fill="none" stroke="#c0c0c0" stroke-width="1.5" stroke-linejoin="round"/>
</g>
<rect x="47.1" y="0.5" width="625.9" height="239.5" fill="none" stroke="#000" stroke-width="1.8"/>
<path d="M86.22,240.0V237.0M86.22,0.5V3.5M125.34,240.0V234.5M125.34,0.5V6.0M164.46,240.0V237.0M164.46,0.5V3.5M203.57,240.0V234.5M203.57,0.5V6.0M242.69,240.0V237.0M242.69,0.5V3.5M281.81,240.0V234.5M281.81,0.5V6.0M320.93,240.0V237.0M320.93,0.5V3.5M360.05,240.0V234.5M360.05,0.5V6.0M399.17,240.0V237.0M399.17,0.5V3.5M438.29,240.0V234.5M438.29,0.5V6.0M477.41,240.0V237.0M477.41,0.5V3.5M516.52,240.0V234.5M516.52,0.5V6.0M555.64,240.0V237.0M555.64,0.5V3.5M594.76,240.0V234.5M594.76,0.5V6.0M633.88,240.0V237.0M633.88,0.5V3.5M47.1,98V98M47.1,98H52.6" stroke="#000" stroke-width="1.4" fill="none"/>
<circle cx="519.8" cy="177.1" r="3.9" fill="#fde725" fill-opacity="0.8"/>
<circle cx="519.8" cy="195.7" r="3.9" fill="#addc30" fill-opacity="0.8"/>
<circle cx="519.8" cy="214.5" r="3.9" fill="#5ec962" fill-opacity="0.8"/>
<circle cx="569.2" cy="177.1" r="3.9" fill="#28ae80" fill-opacity="0.8"/>
<circle cx="569.2" cy="195.7" r="3.9" fill="#21918c" fill-opacity="0.8"/>
<circle cx="569.2" cy="214.5" r="3.9" fill="#2c728e" fill-opacity="0.8"/>
<circle cx="627.1" cy="177.1" r="3.9" fill="#3b528b" fill-opacity="0.8"/>
<circle cx="627.1" cy="195.7" r="3.9" fill="#472d7b" fill-opacity="0.8"/>
<circle cx="627.1" cy="214.5" r="3.9" fill="#440154" fill-opacity="0.8"/>
<g font-family='"Liberation Sans", sans-serif' fill="#000"><text x="47.10" y="255.8" font-size="15.4" text-anchor="middle" >0</text><text x="125.34" y="255.8" font-size="15.4" text-anchor="middle" >50</text><text x="203.57" y="255.8" font-size="15.4" text-anchor="middle" >100</text><text x="281.81" y="255.8" font-size="15.4" text-anchor="middle" >150</text><text x="360.05" y="255.8" font-size="15.4" text-anchor="middle" >200</text><text x="438.29" y="255.8" font-size="15.4" text-anchor="middle" >250</text><text x="516.52" y="255.8" font-size="15.4" text-anchor="middle" >300</text><text x="594.76" y="255.8" font-size="15.4" text-anchor="middle" >350</text><text x="673.00" y="255.8" font-size="15.4" text-anchor="middle" >400</text><text x="42.2" y="102.1" font-size="15.4" text-anchor="end" >0</text><g transform="translate(22.8,184.5) rotate(-90)"><text x="-0.6" y="0" font-size="15.4">d<tspan dx="12.87"> / d</tspan><tspan font-style="italic">H</tspan> (arb. units)</text><path d="M15.2,0.9 C14.9,2.6 14.0,3.2 13.5,2.2 C12.5,0 11.0,-4.5 10.1,-6.2 C9.6,-7.1 8.4,-7.0 8.0,-5.4 M13.6,-6.8 L8.3,2.8" fill="none" stroke="#000" stroke-width="1.05" stroke-linecap="round"/><path d="M16.4,-10.35 L17.7,-10.35 L17.3,-7.2 L16.8,-7.2 Z M18.4,-10.35 L19.7,-10.35 L19.3,-7.2 L18.8,-7.2 Z" fill="#000"/></g><text x="359.6" y="272.7" font-size="15.4" text-anchor="middle"><tspan font-style="italic">μ</tspan><tspan font-size="10" dy="4">0</tspan><tspan font-style="italic" dy="-4">H</tspan> (mT)</text><text x="482.6" y="29.6" font-size="15.4">Mn<tspan font-size="10" dy="4">3</tspan><tspan dy="-4">Sn(40 nm)/Py (12 nm)</tspan></text><text x="559.6" y="161" font-size="15.4"><tspan font-style="italic">f</tspan><tspan font-size="10" dy="4">res</tspan><tspan dy="-4"> (GHz)</tspan></text><text x="540.2" y="182.2" font-size="15.4" text-anchor="start" >4</text><text x="540.2" y="200.6" font-size="15.4" text-anchor="start" >6</text><text x="540.2" y="219.0" font-size="15.4" text-anchor="start" >8</text><text x="586.2" y="182.2" font-size="15.4" text-anchor="start" >10</text><text x="586.2" y="200.6" font-size="15.4" text-anchor="start" >12</text><text x="586.2" y="219.0" font-size="15.4" text-anchor="start" >14</text><text x="644.4" y="182.2" font-size="15.4" text-anchor="start" >16</text><text x="644.4" y="200.6" font-size="15.4" text-anchor="start" >18</text><text x="644.4" y="219.0" font-size="15.4" text-anchor="start" >20</text></g>
<text x="-0.6" y="9.8" font-size="16.6" font-weight="bold" font-family='"Liberation Sans", sans-serif'>a</text>
<rect x="47.1" y="308.9" width="282.09999999999997" height="239.10000000000002" fill="none" stroke="#000" stroke-width="1.8"/>
<path d="M78.44,548.0V545.0M78.44,308.9V311.9M109.79,548.0V542.5M109.79,308.9V314.4M141.13,548.0V545.0M141.13,308.9V311.9M172.48,548.0V542.5M172.48,308.9V314.4M203.82,548.0V545.0M203.82,308.9V311.9M235.17,548.0V542.5M235.17,308.9V314.4M266.51,548.0V545.0M266.51,308.9V311.9M297.86,548.0V542.5M297.86,308.9V314.4M47.1,528.08H50.1M329.2,528.08H326.2M47.1,508.15H52.6M329.2,508.15H323.7M47.1,488.23H50.1M329.2,488.23H326.2M47.1,468.30H52.6M329.2,468.30H323.7M47.1,448.38H50.1M329.2,448.38H326.2M47.1,428.45H52.6M329.2,428.45H323.7M47.1,408.52H50.1M329.2,408.52H326.2M47.1,388.60H52.6M329.2,388.60H323.7M47.1,368.67H50.1M329.2,368.67H326.2M47.1,348.75H52.6M329.2,348.75H323.7M47.1,328.82H50.1M329.2,328.82H326.2" stroke="#000" stroke-width="1.4" fill="none"/>
<circle cx="59.05" cy="508.15" r="4.55" fill="#4a5ff7" fill-opacity="0.95"/>
<circle cx="73.37" cy="488.23" r="4.55" fill="#4a5ff7" fill-opacity="0.95"/>
<circle cx="92.42" cy="468.30" r="4.55" fill="#4a5ff7" fill-opacity="0.95"/>
<circle cx="115.45" cy="448.38" r="4.55" fill="#4a5ff7" fill-opacity="0.95"/>
<circle cx="141.77" cy="428.45" r="4.55" fill="#4a5ff7" fill-opacity="0.95"/>
<circle cx="170.77" cy="408.52" r="4.55" fill="#4a5ff7" fill-opacity="0.95"/>
<circle cx="201.92" cy="388.60" r="4.55" fill="#4a5ff7" fill-opacity="0.95"/>
<circle cx="234.82" cy="368.67" r="4.55" fill="#4a5ff7" fill-opacity="0.95"/>
<circle cx="269.12" cy="348.75" r="4.55" fill="#4a5ff7" fill-opacity="0.95"/>
<path d="M59.31,502.28L64.51,511.08L54.11,511.08Z" fill="#ab5cf5" fill-opacity="0.9"/>
<path d="M73.91,482.36L79.11,491.16L68.71,491.16Z" fill="#ab5cf5" fill-opacity="0.9"/>
<path d="M93.30,462.43L98.50,471.23L88.10,471.23Z" fill="#ab5cf5" fill-opacity="0.9"/>
<path d="M116.69,442.51L121.89,451.31L111.49,451.31Z" fill="#ab5cf5" fill-opacity="0.9"/>
<path d="M143.37,422.58L148.57,431.38L138.17,431.38Z" fill="#ab5cf5" fill-opacity="0.9"/>
<path d="M172.70,402.66L177.90,411.46L167.50,411.46Z" fill="#ab5cf5" fill-opacity="0.9"/>
<path d="M204.16,382.73L209.36,391.53L198.96,391.53Z" fill="#ab5cf5" fill-opacity="0.9"/>
<path d="M237.33,362.81L242.53,371.61L232.13,371.61Z" fill="#ab5cf5" fill-opacity="0.9"/>
<path d="M271.89,342.88L277.09,351.68L266.69,351.68Z" fill="#ab5cf5" fill-opacity="0.9"/>
<path d="M47.10,548.00 L47.81,538.40 L48.51,534.41 L49.22,531.35 L49.93,528.76 L50.64,526.48 L51.34,524.41 L52.05,522.50 L52.76,520.73 L53.46,519.06 L54.17,517.47 L54.88,515.96 L55.58,514.52 L56.29,513.13 L57.00,511.80 L57.71,510.50 L58.41,509.25 L59.12,508.03 L59.83,506.85 L60.53,505.70 L61.24,504.58 L61.95,503.48 L62.65,502.40 L63.36,501.35 L64.07,500.32 L64.78,499.31 L65.48,498.32 L66.19,497.34 L66.90,496.38 L67.60,495.44 L68.31,494.51 L69.02,493.59 L69.72,492.69 L70.43,491.80 L71.14,490.92 L71.85,490.06 L72.55,489.20 L73.26,488.36 L73.97,487.52 L74.67,486.70 L75.38,485.88 L76.09,485.07 L76.79,484.28 L77.50,483.48 L78.21,482.70 L78.92,481.93 L79.62,481.16 L80.33,480.40 L81.04,479.64 L81.74,478.90 L82.45,478.16 L83.16,477.42 L83.86,476.69 L84.57,475.97 L85.28,475.25 L85.99,474.54 L86.69,473.84 L87.40,473.14 L88.11,472.44 L88.81,471.75 L89.52,471.06 L90.23,470.38 L90.94,469.70 L91.64,469.03 L92.35,468.36 L93.06,467.70 L93.76,467.04 L94.47,466.38 L95.18,465.73 L95.88,465.08 L96.59,464.44 L97.30,463.80 L98.01,463.16 L98.71,462.53 L99.42,461.90 L100.13,461.27 L100.83,460.65 L101.54,460.03 L102.25,459.41 L102.95,458.79 L103.66,458.18 L104.37,457.57 L105.08,456.97 L105.78,456.36 L106.49,455.76 L107.20,455.17 L107.90,454.57 L108.61,453.98 L109.32,453.39 L110.02,452.80 L110.73,452.22 L111.44,451.64 L112.15,451.06 L112.85,450.48 L113.56,449.90 L114.27,449.33 L114.97,448.76 L115.68,448.19 L116.39,447.62 L117.09,447.06 L117.80,446.50 L118.51,445.94 L119.22,445.38 L119.92,444.82 L120.63,444.27 L121.34,443.72 L122.04,443.17 L122.75,442.62 L123.46,442.07 L124.16,441.52 L124.87,440.98 L125.58,440.44 L126.29,439.90 L126.99,439.36 L127.70,438.82 L128.41,438.29 L129.11,437.75 L129.82,437.22 L130.53,436.69 L131.24,436.16 L131.94,435.64 L132.65,435.11 L133.36,434.59 L134.06,434.06 L134.77,433.54 L135.48,433.02 L136.18,432.50 L136.89,431.99 L137.60,431.47 L138.31,430.96 L139.01,430.44 L139.72,429.93 L140.43,429.42 L141.13,428.91 L141.84,428.40 L142.55,427.90 L143.25,427.39 L143.96,426.89 L144.67,426.38 L145.38,425.88 L146.08,425.38 L146.79,424.88 L147.50,424.38 L148.20,423.88 L148.91,423.39 L149.62,422.89 L150.32,422.40 L151.03,421.90 L151.74,421.41 L152.45,420.92 L153.15,420.43 L153.86,419.94 L154.57,419.45 L155.27,418.97 L155.98,418.48 L156.69,418.00 L157.39,417.51 L158.10,417.03 L158.81,416.55 L159.52,416.07 L160.22,415.59 L160.93,415.11 L161.64,414.63 L162.34,414.15 L163.05,413.67 L163.76,413.20 L164.46,412.72 L165.17,412.25 L165.88,411.77 L166.59,411.30 L167.29,410.83 L168.00,410.36 L168.71,409.89 L169.41,409.42 L170.12,408.95 L170.83,408.48 L171.54,408.02 L172.24,407.55 L172.95,407.09 L173.66,406.62 L174.36,406.16 L175.07,405.70 L175.78,405.23 L176.48,404.77 L177.19,404.31 L177.90,403.85 L178.61,403.39 L179.31,402.93 L180.02,402.47 L180.73,402.02 L181.43,401.56 L182.14,401.10 L182.85,400.65 L183.55,400.20 L184.26,399.74 L184.97,399.29 L185.68,398.84 L186.38,398.38 L187.09,397.93 L187.80,397.48 L188.50,397.03 L189.21,396.58 L189.92,396.13 L190.62,395.68 L191.33,395.24 L192.04,394.79 L192.75,394.34 L193.45,393.90 L194.16,393.45 L194.87,393.01 L195.57,392.56 L196.28,392.12 L196.99,391.68 L197.69,391.23 L198.40,390.79 L199.11,390.35 L199.82,389.91 L200.52,389.47 L201.23,389.03 L201.94,388.59 L202.64,388.15 L203.35,387.71 L204.06,387.27 L204.76,386.84 L205.47,386.40 L206.18,385.96 L206.89,385.53 L207.59,385.09 L208.30,384.66 L209.01,384.22 L209.71,383.79 L210.42,383.36 L211.13,382.92 L211.84,382.49 L212.54,382.06 L213.25,381.63 L213.96,381.20 L214.66,380.77 L215.37,380.34 L216.08,379.91 L216.78,379.48 L217.49,379.05 L218.20,378.62 L218.91,378.19 L219.61,377.77 L220.32,377.34 L221.03,376.91 L221.73,376.49 L222.44,376.06 L223.15,375.64 L223.85,375.21 L224.56,374.79 L225.27,374.36 L225.98,373.94 L226.68,373.52 L227.39,373.09 L228.10,372.67 L228.80,372.25 L229.51,371.83 L230.22,371.41 L230.92,370.98 L231.63,370.56 L232.34,370.14 L233.05,369.72 L233.75,369.30 L234.46,368.89 L235.17,368.47 L235.87,368.05 L236.58,367.63 L237.29,367.21 L237.99,366.80 L238.70,366.38 L239.41,365.96 L240.12,365.55 L240.82,365.13 L241.53,364.72 L242.24,364.30 L242.94,363.89 L243.65,363.47 L244.36,363.06 L245.06,362.64 L245.77,362.23 L246.48,361.82 L247.19,361.40 L247.89,360.99 L248.60,360.58 L249.31,360.17 L250.01,359.76 L250.72,359.35 L251.43,358.93 L252.14,358.52 L252.84,358.11 L253.55,357.70 L254.26,357.29 L254.96,356.89 L255.67,356.48 L256.38,356.07 L257.08,355.66 L257.79,355.25 L258.50,354.84 L259.21,354.44 L259.91,354.03 L260.62,353.62 L261.33,353.22 L262.03,352.81 L262.74,352.40 L263.45,352.00 L264.15,351.59 L264.86,351.19 L265.57,350.78 L266.28,350.38 L266.98,349.97 L267.69,349.57 L268.40,349.16 L269.10,348.76 L269.81,348.36 L270.52,347.96 L271.22,347.55 L271.93,347.15 L272.64,346.75 L273.35,346.35 L274.05,345.94 L274.76,345.54 L275.47,345.14 L276.17,344.74 L276.88,344.34 L277.59,343.94 L278.29,343.54 L279.00,343.14 L279.71,342.74 L280.42,342.34 L281.12,341.94 L281.83,341.54 L282.54,341.14 L283.24,340.74 L283.95,340.35 L284.66,339.95 L285.36,339.55 L286.07,339.15 L286.78,338.76 L287.49,338.36 L288.19,337.96 L288.90,337.57 L289.61,337.17 L290.31,336.77 L291.02,336.38 L291.73,335.98 L292.44,335.59 L293.14,335.19 L293.85,334.80 L294.56,334.40 L295.26,334.01 L295.97,333.61 L296.68,333.22 L297.38,332.82 L298.09,332.43 L298.80,332.04 L299.51,331.64 L300.21,331.25 L300.92,330.86 L301.63,330.46 L302.33,330.07 L303.04,329.68 L303.75,329.29 L304.45,328.90 L305.16,328.50 L305.87,328.11 L306.58,327.72 L307.28,327.33 L307.99,326.94 L308.70,326.55 L309.40,326.16 L310.11,325.77 L310.82,325.38 L311.52,324.99 L312.23,324.60 L312.94,324.21 L313.65,323.82 L314.35,323.43 L315.06,323.04 L315.77,322.65 L316.47,322.26 L317.18,321.88 L317.89,321.49 L318.59,321.10 L319.30,320.71 L320.01,320.32 L320.72,319.94 L321.42,319.55 L322.13,319.16 L322.84,318.77 L323.54,318.39 L324.25,318.00 L324.96,317.62 L325.66,317.23 L326.37,316.84 L327.08,316.46 L327.79,316.07 L328.49,315.69 L329.20,315.30" fill="none" stroke="#4a5ff7" stroke-width="1.9"/>
<path d="M47.10,548.00 L47.81,538.50 L48.51,534.56 L49.22,531.53 L49.93,528.97 L50.64,526.71 L51.34,524.67 L52.05,522.78 L52.76,521.03 L53.46,519.37 L54.17,517.81 L54.88,516.31 L55.58,514.89 L56.29,513.51 L57.00,512.19 L57.71,510.91 L58.41,509.67 L59.12,508.47 L59.83,507.30 L60.53,506.16 L61.24,505.05 L61.95,503.96 L62.65,502.90 L63.36,501.85 L64.07,500.83 L64.78,499.83 L65.48,498.85 L66.19,497.88 L66.90,496.94 L67.60,496.00 L68.31,495.08 L69.02,494.17 L69.72,493.28 L70.43,492.40 L71.14,491.53 L71.85,490.67 L72.55,489.83 L73.26,488.99 L73.97,488.16 L74.67,487.35 L75.38,486.54 L76.09,485.74 L76.79,484.95 L77.50,484.16 L78.21,483.39 L78.92,482.62 L79.62,481.86 L80.33,481.11 L81.04,480.36 L81.74,479.62 L82.45,478.89 L83.16,478.16 L83.86,477.44 L84.57,476.72 L85.28,476.01 L85.99,475.30 L86.69,474.60 L87.40,473.91 L88.11,473.22 L88.81,472.54 L89.52,471.86 L90.23,471.18 L90.94,470.51 L91.64,469.84 L92.35,469.18 L93.06,468.52 L93.76,467.87 L94.47,467.22 L95.18,466.57 L95.88,465.93 L96.59,465.29 L97.30,464.66 L98.01,464.02 L98.71,463.40 L99.42,462.77 L100.13,462.15 L100.83,461.53 L101.54,460.91 L102.25,460.30 L102.95,459.69 L103.66,459.09 L104.37,458.48 L105.08,457.88 L105.78,457.28 L106.49,456.69 L107.20,456.10 L107.90,455.51 L108.61,454.92 L109.32,454.33 L110.02,453.75 L110.73,453.17 L111.44,452.59 L112.15,452.02 L112.85,451.45 L113.56,450.88 L114.27,450.31 L114.97,449.74 L115.68,449.18 L116.39,448.61 L117.09,448.05 L117.80,447.50 L118.51,446.94 L119.22,446.39 L119.92,445.83 L120.63,445.28 L121.34,444.74 L122.04,444.19 L122.75,443.64 L123.46,443.10 L124.16,442.56 L124.87,442.02 L125.58,441.48 L126.29,440.95 L126.99,440.41 L127.70,439.88 L128.41,439.35 L129.11,438.82 L129.82,438.29 L130.53,437.77 L131.24,437.24 L131.94,436.72 L132.65,436.20 L133.36,435.67 L134.06,435.16 L134.77,434.64 L135.48,434.12 L136.18,433.61 L136.89,433.09 L137.60,432.58 L138.31,432.07 L139.01,431.56 L139.72,431.05 L140.43,430.55 L141.13,430.04 L141.84,429.53 L142.55,429.03 L143.25,428.53 L143.96,428.03 L144.67,427.53 L145.38,427.03 L146.08,426.53 L146.79,426.04 L147.50,425.54 L148.20,425.05 L148.91,424.55 L149.62,424.06 L150.32,423.57 L151.03,423.08 L151.74,422.59 L152.45,422.10 L153.15,421.62 L153.86,421.13 L154.57,420.65 L155.27,420.16 L155.98,419.68 L156.69,419.20 L157.39,418.72 L158.10,418.24 L158.81,417.76 L159.52,417.28 L160.22,416.80 L160.93,416.33 L161.64,415.85 L162.34,415.38 L163.05,414.90 L163.76,414.43 L164.46,413.96 L165.17,413.49 L165.88,413.02 L166.59,412.55 L167.29,412.08 L168.00,411.61 L168.71,411.15 L169.41,410.68 L170.12,410.21 L170.83,409.75 L171.54,409.29 L172.24,408.82 L172.95,408.36 L173.66,407.90 L174.36,407.44 L175.07,406.98 L175.78,406.52 L176.48,406.06 L177.19,405.60 L177.90,405.14 L178.61,404.69 L179.31,404.23 L180.02,403.78 L180.73,403.32 L181.43,402.87 L182.14,402.41 L182.85,401.96 L183.55,401.51 L184.26,401.06 L184.97,400.61 L185.68,400.16 L186.38,399.71 L187.09,399.26 L187.80,398.81 L188.50,398.36 L189.21,397.92 L189.92,397.47 L190.62,397.02 L191.33,396.58 L192.04,396.13 L192.75,395.69 L193.45,395.25 L194.16,394.80 L194.87,394.36 L195.57,393.92 L196.28,393.48 L196.99,393.04 L197.69,392.60 L198.40,392.16 L199.11,391.72 L199.82,391.28 L200.52,390.84 L201.23,390.41 L201.94,389.97 L202.64,389.53 L203.35,389.10 L204.06,388.66 L204.76,388.23 L205.47,387.79 L206.18,387.36 L206.89,386.93 L207.59,386.49 L208.30,386.06 L209.01,385.63 L209.71,385.20 L210.42,384.77 L211.13,384.33 L211.84,383.90 L212.54,383.48 L213.25,383.05 L213.96,382.62 L214.66,382.19 L215.37,381.76 L216.08,381.33 L216.78,380.91 L217.49,380.48 L218.20,380.05 L218.91,379.63 L219.61,379.20 L220.32,378.78 L221.03,378.35 L221.73,377.93 L222.44,377.51 L223.15,377.08 L223.85,376.66 L224.56,376.24 L225.27,375.82 L225.98,375.40 L226.68,374.97 L227.39,374.55 L228.10,374.13 L228.80,373.71 L229.51,373.29 L230.22,372.87 L230.92,372.46 L231.63,372.04 L232.34,371.62 L233.05,371.20 L233.75,370.78 L234.46,370.37 L235.17,369.95 L235.87,369.53 L236.58,369.12 L237.29,368.70 L237.99,368.29 L238.70,367.87 L239.41,367.46 L240.12,367.04 L240.82,366.63 L241.53,366.22 L242.24,365.80 L242.94,365.39 L243.65,364.98 L244.36,364.57 L245.06,364.15 L245.77,363.74 L246.48,363.33 L247.19,362.92 L247.89,362.51 L248.60,362.10 L249.31,361.69 L250.01,361.28 L250.72,360.87 L251.43,360.46 L252.14,360.05 L252.84,359.65 L253.55,359.24 L254.26,358.83 L254.96,358.42 L255.67,358.01 L256.38,357.61 L257.08,357.20 L257.79,356.80 L258.50,356.39 L259.21,355.98 L259.91,355.58 L260.62,355.17 L261.33,354.77 L262.03,354.36 L262.74,353.96 L263.45,353.56 L264.15,353.15 L264.86,352.75 L265.57,352.35 L266.28,351.94 L266.98,351.54 L267.69,351.14 L268.40,350.74 L269.10,350.33 L269.81,349.93 L270.52,349.53 L271.22,349.13 L271.93,348.73 L272.64,348.33 L273.35,347.93 L274.05,347.53 L274.76,347.13 L275.47,346.73 L276.17,346.33 L276.88,345.93 L277.59,345.53 L278.29,345.13 L279.00,344.73 L279.71,344.34 L280.42,343.94 L281.12,343.54 L281.83,343.14 L282.54,342.75 L283.24,342.35 L283.95,341.95 L284.66,341.56 L285.36,341.16 L286.07,340.77 L286.78,340.37 L287.49,339.97 L288.19,339.58 L288.90,339.18 L289.61,338.79 L290.31,338.39 L291.02,338.00 L291.73,337.61 L292.44,337.21 L293.14,336.82 L293.85,336.42 L294.56,336.03 L295.26,335.64 L295.97,335.25 L296.68,334.85 L297.38,334.46 L298.09,334.07 L298.80,333.68 L299.51,333.28 L300.21,332.89 L300.92,332.50 L301.63,332.11 L302.33,331.72 L303.04,331.33 L303.75,330.94 L304.45,330.55 L305.16,330.16 L305.87,329.77 L306.58,329.38 L307.28,328.99 L307.99,328.60 L308.70,328.21 L309.40,327.82 L310.11,327.43 L310.82,327.04 L311.52,326.65 L312.23,326.27 L312.94,325.88 L313.65,325.49 L314.35,325.10 L315.06,324.71 L315.77,324.33 L316.47,323.94 L317.18,323.55 L317.89,323.17 L318.59,322.78 L319.30,322.39 L320.01,322.01 L320.72,321.62 L321.42,321.23 L322.13,320.85 L322.84,320.46 L323.54,320.08 L324.25,319.69 L324.96,319.31 L325.66,318.92 L326.37,318.54 L327.08,318.15 L327.79,317.77 L328.49,317.38 L329.20,317.00" fill="none" stroke="#ab5cf5" stroke-width="1.9"/>
<circle cx="62.7" cy="326.9" r="4.5" fill="#4a5ff7"/>
<path d="M62.70,345.13L67.90,353.93L57.50,353.93Z" fill="#ab5cf5" fill-opacity="0.9"/>
<g font-family='"Liberation Sans", sans-serif' fill="#000"><text x="47.10" y="564.8" font-size="15.4" text-anchor="middle" >0</text><text x="109.79" y="564.8" font-size="15.4" text-anchor="middle" >100</text><text x="172.48" y="564.8" font-size="15.4" text-anchor="middle" >200</text><text x="235.17" y="564.8" font-size="15.4" text-anchor="middle" >300</text><text x="297.86" y="564.8" font-size="15.4" text-anchor="middle" >400</text><text x="42.2" y="553.00" font-size="15.4" text-anchor="end" >0</text><text x="42.2" y="513.15" font-size="15.4" text-anchor="end" >4</text><text x="42.2" y="473.30" font-size="15.4" text-anchor="end" >8</text><text x="42.2" y="433.45" font-size="15.4" text-anchor="end" >12</text><text x="42.2" y="393.60" font-size="15.4" text-anchor="end" >16</text><text x="42.2" y="353.75" font-size="15.4" text-anchor="end" >20</text><text x="158" y="584.5" font-size="15.4"><tspan font-style="italic">μ</tspan><tspan font-size="10" dy="4">0</tspan><tspan font-style="italic" dy="-4">H</tspan><tspan font-size="10" dy="4">res</tspan><tspan dy="-4"> (mT)</tspan></text><text transform="translate(15.4,461.4) rotate(-90)" font-size="15.4"><tspan font-style="italic">f</tspan><tspan font-size="10" dy="4">res</tspan><tspan dy="-4"> (GHz)</tspan></text><text x="85" y="331.9" font-size="15.4">Mn<tspan font-size="10" dy="4">3</tspan><tspan dy="-4">Sn/Py (</tspan><tspan font-style="italic">M</tspan><tspan font-size="10" dy="4" font-style="italic">eff</tspan><tspan dy="-4"> = 756.1 kA m</tspan><tspan font-size="10" dy="-5">-1</tspan><tspan dy="5">)</tspan></text><text x="85" y="355.3" font-size="15.4">Py (<tspan font-style="italic">M</tspan><tspan font-size="10" dy="4" font-style="italic">eff</tspan><tspan dy="-4"> = 738.5 kA m</tspan><tspan font-size="10" dy="-5">-1</tspan><tspan dy="5">)</tspan></text></g>
<text x="-0.7" y="308.7" font-size="16.6" font-weight="bold" font-family='"Liberation Sans", sans-serif'>b</text>
<rect x="390.8" y="309.0" width="282.09999999999997" height="239.0" fill="none" stroke="#000" stroke-width="1.8"/>
<path d="M419.00,548.0V542.5M419.00,309.0V314.5M452.90,548.0V545.0M452.90,309.0V312.0M486.80,548.0V542.5M486.80,309.0V314.5M520.70,548.0V545.0M520.70,309.0V312.0M554.60,548.0V542.5M554.60,309.0V314.5M588.50,548.0V545.0M588.50,309.0V312.0M622.40,548.0V542.5M622.40,309.0V314.5M656.30,548.0V545.0M656.30,309.0V312.0M390.8,533.89H393.8M672.9,533.89H669.9M390.8,511.88H396.3M672.9,511.88H667.4M390.8,489.87H393.8M672.9,489.87H669.9M390.8,467.86H396.3M672.9,467.86H667.4M390.8,445.85H393.8M672.9,445.85H669.9M390.8,423.84H396.3M672.9,423.84H667.4M390.8,401.83H393.8M672.9,401.83H669.9M390.8,379.82H396.3M672.9,379.82H667.4M390.8,357.81H393.8M672.9,357.81H669.9M390.8,335.80H396.3M672.9,335.80H667.4M390.8,313.79H393.8M672.9,313.79H669.9" stroke="#000" stroke-width="1.4" fill="none"/>
<defs><clipPath id="cc"><rect x="390.8" y="309.0" width="282.09999999999997" height="239.0"/></clipPath></defs>
<circle cx="405.44" cy="515.6" r="4.6" fill="#4a5ff7" fill-opacity="0.95"/>
<circle cx="432.56" cy="499.1" r="4.6" fill="#4a5ff7" fill-opacity="0.95"/>
<circle cx="459.68" cy="481.0" r="4.6" fill="#4a5ff7" fill-opacity="0.95"/>
<circle cx="486.80" cy="462.8" r="4.6" fill="#4a5ff7" fill-opacity="0.95"/>
<circle cx="513.92" cy="442.3" r="4.6" fill="#4a5ff7" fill-opacity="0.95"/>
<circle cx="541.04" cy="418.3" r="4.6" fill="#4a5ff7" fill-opacity="0.95"/>
<circle cx="568.16" cy="402.3" r="4.6" fill="#4a5ff7" fill-opacity="0.95"/>
<circle cx="595.28" cy="379.4" r="4.6" fill="#4a5ff7" fill-opacity="0.95"/>
<circle cx="622.40" cy="359.5" r="4.6" fill="#4a5ff7" fill-opacity="0.95"/>
<path d="M405.44,521.03L410.64,529.83L400.24,529.83Z" fill="#ab5cf5" fill-opacity="0.9"/>
<path d="M432.56,509.43L437.76,518.23L427.36,518.23Z" fill="#ab5cf5" fill-opacity="0.9"/>
<path d="M459.68,499.93L464.88,508.73L454.48,508.73Z" fill="#ab5cf5" fill-opacity="0.9"/>
<path d="M486.80,488.73L492.00,497.53L481.60,497.53Z" fill="#ab5cf5" fill-opacity="0.9"/>
<path d="M513.92,477.73L519.12,486.53L508.72,486.53Z" fill="#ab5cf5" fill-opacity="0.9"/>
<path d="M541.04,466.93L546.24,475.73L535.84,475.73Z" fill="#ab5cf5" fill-opacity="0.9"/>
<path d="M568.16,455.63L573.36,464.43L562.96,464.43Z" fill="#ab5cf5" fill-opacity="0.9"/>
<path d="M595.28,444.03L600.48,452.83L590.08,452.83Z" fill="#ab5cf5" fill-opacity="0.9"/>
<path d="M622.40,432.73L627.60,441.53L617.20,441.53Z" fill="#ab5cf5" fill-opacity="0.9"/>
<g clip-path="url(#cc)">
<path d="M390.8,532.7 L672.9,418.5" stroke="#ab5cf5" stroke-width="1.8" fill="none"/>
<path d="M390.8,529.7 L672.9,323.8" stroke="#4a5ff7" stroke-width="1.8" fill="none"/>
</g>
<circle cx="415.5" cy="328.2" r="4.6" fill="#4a5ff7"/>
<path d="M415.50,346.43L420.70,355.23L410.30,355.23Z" fill="#ab5cf5" fill-opacity="0.9"/>
<g font-family='"Liberation Sans", sans-serif' fill="#000"><text x="419.00" y="564.8" font-size="15.4" text-anchor="middle" >5</text><text x="486.80" y="564.8" font-size="15.4" text-anchor="middle" >10</text><text x="554.60" y="564.8" font-size="15.4" text-anchor="middle" >15</text><text x="622.40" y="564.8" font-size="15.4" text-anchor="middle" >20</text><text x="385.7" y="516.88" font-size="15.4" text-anchor="end" >2</text><text x="385.7" y="472.86" font-size="15.4" text-anchor="end" >4</text><text x="385.7" y="428.84" font-size="15.4" text-anchor="end" >6</text><text x="385.7" y="384.82" font-size="15.4" text-anchor="end" >8</text><text x="385.7" y="340.80" font-size="15.4" text-anchor="end" >10</text><text x="509.8" y="584.5" font-size="15.4"><tspan font-style="italic">f</tspan><tspan font-size="10" dy="4">res</tspan><tspan dy="-4"> (GHz)</tspan></text><text transform="translate(361.6,470.5) rotate(-90)" font-size="15.4"><tspan font-style="italic">μ</tspan><tspan font-size="10" dy="4">o</tspan><tspan dy="-4" font-family="Liberation Serif" font-size="16">Δ</tspan><tspan font-style="italic">H</tspan><tspan font-size="10" dy="4">pp</tspan><tspan dy="-4"> (mT)</tspan></text><text x="437.8" y="333.8" font-size="15.4">Mn<tspan font-size="10" dy="4">3</tspan><tspan dy="-4">Sn/Py (</tspan></text><text x="515.8" y="333.8" font-size="17.5" font-style="italic" font-family="Liberation Serif">α</text><text x="527.6" y="335.6" font-size="16" font-family="Liberation Serif">=</text><text x="539.2" y="333.8" font-size="15.9">0.01154)</text><text x="437.8" y="357.4" font-size="15.4">Py (</text><text x="466.4" y="357.4" font-size="17.5" font-style="italic" font-family="Liberation Serif">α</text><text x="477.4" y="359.2" font-size="16" font-family="Liberation Serif">=</text><text x="489.3" y="357.4" font-size="15.9">0.00643)</text></g>
<text x="343.2" y="308.5" font-size="16.6" font-weight="bold" font-family='"Liberation Sans", sans-serif'>c</text>
</svg></body></html>
